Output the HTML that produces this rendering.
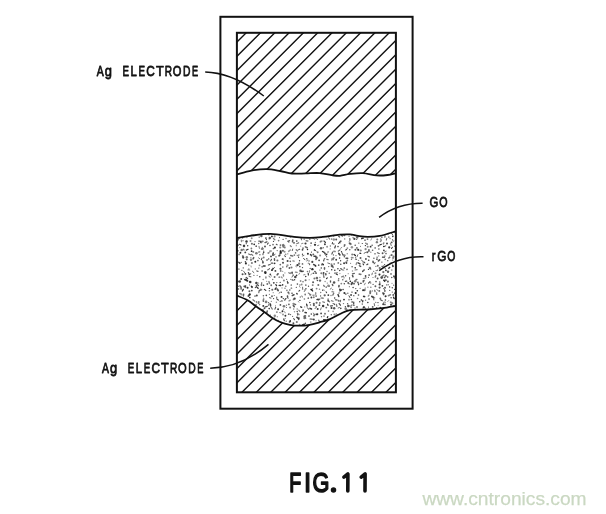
<!DOCTYPE html>
<html><head><meta charset="utf-8"><style>
html,body{margin:0;padding:0;background:#fff;}
body{width:606px;height:514px;overflow:hidden;position:relative;}
svg{position:absolute;left:0;top:0;}
</style></head><body>
<svg width="606" height="514" viewBox="0 0 606 514">
<defs>
<clipPath id="ct"><path d="M236.90 32.80 L395.90 32.80 L395.90 173.20 L395.90 173.20 C394.50 173.50 390.72 174.63 387.50 175.00 C384.28 175.37 380.72 175.72 376.60 175.40 C372.48 175.08 367.25 173.35 362.80 173.10 C358.35 172.85 353.70 173.45 349.90 173.90 C346.10 174.35 342.88 175.57 340.00 175.80 C337.12 176.03 335.98 175.75 332.60 175.30 C329.22 174.85 324.17 173.42 319.70 173.10 C315.23 172.78 310.42 173.33 305.80 173.40 C301.18 173.47 296.28 173.90 292.00 173.50 C287.72 173.10 284.35 171.72 280.10 171.00 C275.85 170.28 271.28 169.27 266.50 169.20 C261.72 169.13 256.33 169.73 251.40 170.60 C246.47 171.47 239.32 173.77 236.90 174.40 Z"/></clipPath>
<clipPath id="cb"><path d="M236.90 295.60 C238.68 296.37 244.37 298.38 247.60 300.20 C250.83 302.02 253.38 304.43 256.30 306.50 C259.22 308.57 262.33 310.65 265.10 312.60 C267.87 314.55 270.42 316.63 272.90 318.20 C275.38 319.77 277.18 320.90 280.00 322.00 C282.82 323.10 286.52 324.18 289.80 324.80 C293.08 325.42 296.40 325.70 299.70 325.70 C303.00 325.70 306.30 325.37 309.60 324.80 C312.90 324.23 316.20 323.22 319.50 322.30 C322.80 321.38 325.98 320.68 329.40 319.30 C332.82 317.92 336.57 315.52 340.00 314.00 C343.43 312.48 345.28 310.95 350.00 310.20 C354.72 309.45 362.92 309.85 368.30 309.50 C373.68 309.15 377.70 308.72 382.30 308.10 C386.90 307.48 393.63 306.18 395.90 305.80 L395.90 392.30 L236.90 392.30 Z"/></clipPath>
<clipPath id="cs"><path d="M236.90 238.00 C239.08 237.63 244.38 236.48 250.00 235.80 C255.62 235.12 263.27 233.72 270.60 233.90 C277.93 234.08 287.47 236.25 294.00 236.90 C300.53 237.55 305.02 237.80 309.80 237.80 C314.58 237.80 317.75 237.42 322.70 236.90 C327.65 236.38 334.95 235.12 339.50 234.70 C344.05 234.28 346.93 234.20 350.00 234.40 C353.07 234.60 354.93 235.48 357.90 235.90 C360.87 236.32 364.17 236.90 367.80 236.90 C371.43 236.90 375.02 236.83 379.70 235.90 C384.38 234.97 393.20 232.07 395.90 231.30 L395.90 305.80 L395.90 305.80 C393.63 306.18 386.90 307.48 382.30 308.10 C377.70 308.72 373.68 309.15 368.30 309.50 C362.92 309.85 354.72 309.45 350.00 310.20 C345.28 310.95 343.43 312.48 340.00 314.00 C336.57 315.52 332.82 317.92 329.40 319.30 C325.98 320.68 322.80 321.38 319.50 322.30 C316.20 323.22 312.90 324.23 309.60 324.80 C306.30 325.37 303.00 325.70 299.70 325.70 C296.40 325.70 293.08 325.42 289.80 324.80 C286.52 324.18 282.82 323.10 280.00 322.00 C277.18 320.90 275.38 319.77 272.90 318.20 C270.42 316.63 267.87 314.55 265.10 312.60 C262.33 310.65 259.22 308.57 256.30 306.50 C253.38 304.43 250.83 302.02 247.60 300.20 C244.37 298.38 238.68 296.37 236.90 295.60 Z"/></clipPath>
</defs>
<rect x="0" y="0" width="606" height="514" fill="#fff"/>
<g stroke="#111" stroke-width="1.4" fill="none">
<path clip-path="url(#ct)" d="M234.90 15.50 L397.90 -147.50 M234.90 29.80 L397.90 -133.20 M234.90 44.10 L397.90 -118.90 M234.90 58.40 L397.90 -104.60 M234.90 72.70 L397.90 -90.30 M234.90 87.00 L397.90 -76.00 M234.90 101.30 L397.90 -61.70 M234.90 115.60 L397.90 -47.40 M234.90 129.90 L397.90 -33.10 M234.90 144.20 L397.90 -18.80 M234.90 158.50 L397.90 -4.50 M234.90 172.80 L397.90 9.80 M234.90 187.10 L397.90 24.10 M234.90 201.40 L397.90 38.40 M234.90 215.70 L397.90 52.70 M234.90 230.00 L397.90 67.00 M234.90 244.30 L397.90 81.30 M234.90 258.60 L397.90 95.60 M234.90 272.90 L397.90 109.90 M234.90 287.20 L397.90 124.20 M234.90 301.50 L397.90 138.50 M234.90 315.80 L397.90 152.80 M234.90 330.10 L397.90 167.10 M234.90 344.40 L397.90 181.40 M234.90 358.70 L397.90 195.70"/>
<path clip-path="url(#cb)" d="M234.90 284.10 L397.90 121.10 M234.90 298.50 L397.90 135.50 M234.90 312.90 L397.90 149.90 M234.90 327.30 L397.90 164.30 M234.90 341.70 L397.90 178.70 M234.90 356.10 L397.90 193.10 M234.90 370.50 L397.90 207.50 M234.90 384.90 L397.90 221.90 M234.90 399.30 L397.90 236.30 M234.90 413.70 L397.90 250.70 M234.90 428.10 L397.90 265.10 M234.90 442.50 L397.90 279.50 M234.90 456.90 L397.90 293.90 M234.90 471.30 L397.90 308.30 M234.90 485.70 L397.90 322.70 M234.90 500.10 L397.90 337.10 M234.90 514.50 L397.90 351.50 M234.90 528.90 L397.90 365.90 M234.90 543.30 L397.90 380.30 M234.90 557.70 L397.90 394.70 M234.90 572.10 L397.90 409.10"/>
</g>
<g clip-path="url(#cs)" fill="#111" stroke="#111" stroke-linecap="round"><path d="M237.9 230.3 L237.8 232.1" stroke-opacity="0.71" stroke-width="1.21"/><path d="M240.8 229.0 L238.6 229.1" stroke-opacity="0.76" stroke-width="1.43"/><path d="M244.5 228.2 L245.3 228.9" stroke-opacity="0.48" stroke-width="1.22"/><circle cx="247.8" cy="230.9" r="0.87" fill-opacity="0.67" stroke="none"/><circle cx="250.7" cy="231.4" r="1.29" fill-opacity="0.77" stroke="none"/><circle cx="254.1" cy="228.2" r="0.75" fill-opacity="0.83" stroke="none"/><circle cx="260.1" cy="228.7" r="1.16" fill-opacity="0.89" stroke="none"/><circle cx="265.7" cy="230.7" r="0.59" fill-opacity="0.60" stroke="none"/><path d="M267.5 228.1 L267.2 229.6" stroke-opacity="0.81" stroke-width="0.87"/><path d="M272.2 227.6 L273.6 229.3" stroke-opacity="0.64" stroke-width="0.91"/><circle cx="274.9" cy="231.1" r="0.75" fill-opacity="0.83" stroke="none"/><path d="M280.2 228.6 L281.3 228.9" stroke-opacity="0.60" stroke-width="1.40"/><circle cx="281.6" cy="230.1" r="0.78" fill-opacity="0.88" stroke="none"/><path d="M286.4 228.1 L288.0 229.2" stroke-opacity="0.82" stroke-width="1.51"/><path d="M287.3 231.1 L289.4 231.4" stroke-opacity="0.64" stroke-width="1.28"/><path d="M293.9 228.5 L293.2 229.3" stroke-opacity="0.58" stroke-width="1.27"/><path d="M295.8 230.9 L297.1 231.0" stroke-opacity="0.86" stroke-width="1.04"/><circle cx="298.2" cy="228.6" r="0.84" fill-opacity="0.51" stroke="none"/><path d="M303.8 230.2 L305.9 230.3" stroke-opacity="0.51" stroke-width="1.26"/><circle cx="308.2" cy="228.1" r="0.79" fill-opacity="0.78" stroke="none"/><circle cx="313.7" cy="230.5" r="1.26" fill-opacity="0.77" stroke="none"/><circle cx="316.5" cy="230.4" r="1.30" fill-opacity="0.64" stroke="none"/><path d="M321.1 229.2 L320.2 231.1" stroke-opacity="0.72" stroke-width="1.26"/><circle cx="324.7" cy="229.3" r="0.84" fill-opacity="0.65" stroke="none"/><circle cx="328.2" cy="228.1" r="0.79" fill-opacity="0.55" stroke="none"/><circle cx="331.2" cy="231.2" r="0.56" fill-opacity="0.59" stroke="none"/><circle cx="333.1" cy="231.1" r="0.77" fill-opacity="0.85" stroke="none"/><circle cx="336.6" cy="229.5" r="1.01" fill-opacity="0.85" stroke="none"/><circle cx="340.5" cy="228.5" r="0.97" fill-opacity="0.83" stroke="none"/><circle cx="346.9" cy="229.6" r="0.66" fill-opacity="0.64" stroke="none"/><path d="M351.3 230.7 L350.4 231.1" stroke-opacity="0.48" stroke-width="1.74"/><circle cx="355.2" cy="229.1" r="0.56" fill-opacity="0.51" stroke="none"/><circle cx="359.5" cy="228.8" r="0.57" fill-opacity="0.73" stroke="none"/><circle cx="362.4" cy="230.8" r="1.24" fill-opacity="0.54" stroke="none"/><circle cx="363.6" cy="229.6" r="0.64" fill-opacity="0.57" stroke="none"/><circle cx="368.8" cy="230.1" r="0.75" fill-opacity="0.81" stroke="none"/><circle cx="373.7" cy="230.5" r="0.78" fill-opacity="0.73" stroke="none"/><circle cx="375.9" cy="231.0" r="1.02" fill-opacity="0.66" stroke="none"/><circle cx="379.8" cy="230.8" r="0.91" fill-opacity="0.55" stroke="none"/><path d="M390.3 228.3 L390.6 229.9" stroke-opacity="0.61" stroke-width="1.95"/><path d="M392.3 227.3 L393.3 228.9" stroke-opacity="0.81" stroke-width="0.87"/><circle cx="395.1" cy="229.8" r="0.97" fill-opacity="0.76" stroke="none"/><circle cx="239.2" cy="231.7" r="0.81" fill-opacity="0.58" stroke="none"/><circle cx="241.2" cy="234.4" r="0.71" fill-opacity="0.62" stroke="none"/><path d="M243.6 233.6 L243.4 235.2" stroke-opacity="0.71" stroke-width="1.78"/><circle cx="246.3" cy="234.8" r="0.75" fill-opacity="0.81" stroke="none"/><circle cx="252.1" cy="231.7" r="0.76" fill-opacity="0.88" stroke="none"/><circle cx="254.8" cy="231.9" r="0.96" fill-opacity="0.86" stroke="none"/><path d="M256.7 233.2 L257.8 233.9" stroke-opacity="0.80" stroke-width="1.57"/><path d="M261.2 232.0 L261.1 233.3" stroke-opacity="0.78" stroke-width="0.90"/><path d="M264.6 232.4 L266.0 233.5" stroke-opacity="0.69" stroke-width="1.14"/><circle cx="268.8" cy="234.4" r="0.98" fill-opacity="0.55" stroke="none"/><circle cx="273.5" cy="232.5" r="1.01" fill-opacity="0.55" stroke="none"/><circle cx="274.3" cy="232.3" r="0.68" fill-opacity="0.49" stroke="none"/><path d="M280.6 231.0 L279.5 232.8" stroke-opacity="0.46" stroke-width="1.34"/><path d="M285.5 233.9 L286.4 234.2" stroke-opacity="0.54" stroke-width="1.34"/><circle cx="289.4" cy="233.4" r="0.64" fill-opacity="0.54" stroke="none"/><circle cx="294.9" cy="231.7" r="1.16" fill-opacity="0.79" stroke="none"/><circle cx="299.8" cy="232.9" r="0.56" fill-opacity="0.77" stroke="none"/><circle cx="303.0" cy="234.0" r="0.65" fill-opacity="0.52" stroke="none"/><circle cx="308.0" cy="234.2" r="0.98" fill-opacity="0.73" stroke="none"/><circle cx="310.1" cy="234.8" r="0.68" fill-opacity="0.86" stroke="none"/><circle cx="314.6" cy="232.8" r="0.99" fill-opacity="0.76" stroke="none"/><path d="M316.3 233.1 L317.0 234.7" stroke-opacity="0.66" stroke-width="1.08"/><circle cx="319.5" cy="234.7" r="0.72" fill-opacity="0.75" stroke="none"/><circle cx="323.5" cy="234.9" r="0.90" fill-opacity="0.79" stroke="none"/><path d="M327.5 233.5 L327.9 234.5" stroke-opacity="0.47" stroke-width="1.13"/><circle cx="332.2" cy="233.3" r="1.03" fill-opacity="0.71" stroke="none"/><circle cx="335.3" cy="231.7" r="0.93" fill-opacity="0.47" stroke="none"/><circle cx="337.6" cy="232.0" r="0.86" fill-opacity="0.48" stroke="none"/><circle cx="341.2" cy="233.5" r="0.69" fill-opacity="0.74" stroke="none"/><path d="M345.8 232.0 L344.8 233.0" stroke-opacity="0.47" stroke-width="1.01"/><circle cx="348.9" cy="231.6" r="1.33" fill-opacity="0.48" stroke="none"/><circle cx="351.4" cy="234.8" r="0.81" fill-opacity="0.87" stroke="none"/><circle cx="356.6" cy="234.3" r="0.61" fill-opacity="0.73" stroke="none"/><circle cx="356.8" cy="233.3" r="0.77" fill-opacity="0.75" stroke="none"/><circle cx="362.1" cy="232.9" r="0.82" fill-opacity="0.90" stroke="none"/><circle cx="364.4" cy="231.8" r="0.94" fill-opacity="0.73" stroke="none"/><path d="M368.6 232.6 L370.1 234.2" stroke-opacity="0.79" stroke-width="1.30"/><circle cx="373.5" cy="231.6" r="0.69" fill-opacity="0.64" stroke="none"/><circle cx="375.8" cy="231.7" r="0.89" fill-opacity="0.70" stroke="none"/><path d="M378.1 231.8 L379.9 232.5" stroke-opacity="0.83" stroke-width="1.38"/><circle cx="383.5" cy="232.2" r="0.68" fill-opacity="0.81" stroke="none"/><circle cx="387.7" cy="232.6" r="0.92" fill-opacity="0.86" stroke="none"/><circle cx="388.0" cy="234.5" r="0.59" fill-opacity="0.70" stroke="none"/><path d="M391.6 233.4 L392.7 234.9" stroke-opacity="0.75" stroke-width="0.98"/><path d="M396.1 231.3 L395.1 232.6" stroke-opacity="0.61" stroke-width="1.37"/><circle cx="239.1" cy="238.1" r="0.95" fill-opacity="0.59" stroke="none"/><circle cx="242.6" cy="238.0" r="0.73" fill-opacity="0.61" stroke="none"/><circle cx="244.1" cy="235.6" r="0.95" fill-opacity="0.69" stroke="none"/><circle cx="246.9" cy="237.5" r="0.69" fill-opacity="0.46" stroke="none"/><circle cx="251.7" cy="238.2" r="0.95" fill-opacity="0.48" stroke="none"/><circle cx="253.4" cy="235.2" r="1.00" fill-opacity="0.49" stroke="none"/><circle cx="259.2" cy="237.1" r="0.66" fill-opacity="0.79" stroke="none"/><circle cx="261.4" cy="236.1" r="1.24" fill-opacity="0.67" stroke="none"/><circle cx="265.9" cy="238.1" r="0.96" fill-opacity="0.75" stroke="none"/><circle cx="269.8" cy="238.0" r="1.22" fill-opacity="0.69" stroke="none"/><circle cx="271.9" cy="236.4" r="0.92" fill-opacity="0.90" stroke="none"/><circle cx="274.6" cy="236.4" r="1.03" fill-opacity="0.48" stroke="none"/><circle cx="279.5" cy="237.6" r="0.58" fill-opacity="0.66" stroke="none"/><circle cx="280.9" cy="235.3" r="0.66" fill-opacity="0.56" stroke="none"/><circle cx="285.0" cy="235.5" r="0.64" fill-opacity="0.79" stroke="none"/><circle cx="290.5" cy="236.6" r="0.99" fill-opacity="0.86" stroke="none"/><circle cx="294.4" cy="236.6" r="0.57" fill-opacity="0.88" stroke="none"/><path d="M295.6 236.7 L297.2 236.7" stroke-opacity="0.75" stroke-width="1.57"/><circle cx="300.7" cy="237.4" r="0.63" fill-opacity="0.52" stroke="none"/><circle cx="304.4" cy="236.7" r="1.05" fill-opacity="0.57" stroke="none"/><path d="M306.9 234.2 L308.2 235.6" stroke-opacity="0.82" stroke-width="1.46"/><circle cx="310.0" cy="236.5" r="1.21" fill-opacity="0.84" stroke="none"/><circle cx="313.2" cy="238.1" r="0.96" fill-opacity="0.54" stroke="none"/><circle cx="315.8" cy="237.8" r="0.71" fill-opacity="0.48" stroke="none"/><circle cx="321.2" cy="236.1" r="0.60" fill-opacity="0.63" stroke="none"/><circle cx="327.9" cy="234.9" r="0.91" fill-opacity="0.56" stroke="none"/><path d="M328.8 237.6 L329.4 239.1" stroke-opacity="0.73" stroke-width="0.98"/><circle cx="333.7" cy="236.3" r="0.68" fill-opacity="0.54" stroke="none"/><path d="M338.7 236.6 L339.7 237.1" stroke-opacity="0.82" stroke-width="1.07"/><path d="M341.4 235.1 L342.3 235.9" stroke-opacity="0.72" stroke-width="1.45"/><circle cx="344.3" cy="235.2" r="1.15" fill-opacity="0.68" stroke="none"/><circle cx="349.1" cy="236.2" r="0.76" fill-opacity="0.46" stroke="none"/><circle cx="353.1" cy="237.6" r="0.85" fill-opacity="0.46" stroke="none"/><circle cx="355.4" cy="235.3" r="0.80" fill-opacity="0.80" stroke="none"/><circle cx="357.2" cy="237.5" r="1.19" fill-opacity="0.61" stroke="none"/><path d="M363.4 238.2 L361.7 238.5" stroke-opacity="0.83" stroke-width="1.36"/><circle cx="363.8" cy="235.7" r="0.90" fill-opacity="0.60" stroke="none"/><circle cx="368.6" cy="235.3" r="1.05" fill-opacity="0.86" stroke="none"/><circle cx="372.4" cy="235.8" r="1.35" fill-opacity="0.82" stroke="none"/><circle cx="376.7" cy="235.9" r="0.67" fill-opacity="0.71" stroke="none"/><circle cx="379.2" cy="235.2" r="0.64" fill-opacity="0.89" stroke="none"/><circle cx="381.9" cy="237.2" r="0.74" fill-opacity="0.72" stroke="none"/><path d="M385.0 235.9 L384.9 237.2" stroke-opacity="0.71" stroke-width="1.11"/><circle cx="388.8" cy="237.1" r="0.89" fill-opacity="0.52" stroke="none"/><circle cx="392.8" cy="236.3" r="0.89" fill-opacity="0.79" stroke="none"/><circle cx="398.0" cy="237.8" r="0.75" fill-opacity="0.65" stroke="none"/><path d="M238.4 239.4 L237.0 241.0" stroke-opacity="0.59" stroke-width="1.50"/><path d="M241.3 240.2 L241.5 241.7" stroke-opacity="0.48" stroke-width="1.27"/><circle cx="243.0" cy="240.7" r="0.67" fill-opacity="0.59" stroke="none"/><circle cx="246.5" cy="241.5" r="1.23" fill-opacity="0.84" stroke="none"/><circle cx="250.5" cy="240.9" r="1.00" fill-opacity="0.49" stroke="none"/><circle cx="255.0" cy="241.6" r="0.67" fill-opacity="0.58" stroke="none"/><path d="M258.7 241.1 L260.7 241.3" stroke-opacity="0.71" stroke-width="1.09"/><path d="M262.8 241.3 L260.8 241.8" stroke-opacity="0.54" stroke-width="1.75"/><circle cx="266.4" cy="239.6" r="0.64" fill-opacity="0.85" stroke="none"/><circle cx="269.1" cy="239.0" r="0.58" fill-opacity="0.50" stroke="none"/><circle cx="273.5" cy="241.4" r="0.62" fill-opacity="0.76" stroke="none"/><path d="M273.5 238.5 L274.8 239.7" stroke-opacity="0.54" stroke-width="1.36"/><circle cx="278.6" cy="240.6" r="0.84" fill-opacity="0.55" stroke="none"/><circle cx="283.1" cy="239.3" r="0.59" fill-opacity="0.89" stroke="none"/><circle cx="286.0" cy="238.5" r="0.69" fill-opacity="0.56" stroke="none"/><path d="M289.7 240.6 L287.6 241.3" stroke-opacity="0.70" stroke-width="1.03"/><path d="M292.8 240.1 L292.5 241.8" stroke-opacity="0.67" stroke-width="1.52"/><circle cx="296.8" cy="241.1" r="0.80" fill-opacity="0.83" stroke="none"/><path d="M301.1 238.0 L301.5 239.9" stroke-opacity="0.72" stroke-width="0.95"/><circle cx="304.2" cy="239.2" r="0.66" fill-opacity="0.71" stroke="none"/><path d="M306.2 240.8 L307.8 240.9" stroke-opacity="0.53" stroke-width="1.48"/><circle cx="309.9" cy="239.3" r="0.59" fill-opacity="0.86" stroke="none"/><circle cx="314.5" cy="239.2" r="0.71" fill-opacity="0.47" stroke="none"/><path d="M316.6 238.8 L317.5 239.7" stroke-opacity="0.82" stroke-width="0.89"/><path d="M322.1 241.0 L321.0 241.1" stroke-opacity="0.61" stroke-width="1.13"/><path d="M324.0 241.0 L325.5 242.5" stroke-opacity="0.79" stroke-width="1.17"/><circle cx="327.0" cy="239.4" r="0.59" fill-opacity="0.47" stroke="none"/><circle cx="331.6" cy="239.1" r="0.83" fill-opacity="0.56" stroke="none"/><circle cx="333.8" cy="239.5" r="1.21" fill-opacity="0.47" stroke="none"/><circle cx="336.2" cy="239.5" r="0.98" fill-opacity="0.72" stroke="none"/><circle cx="340.8" cy="241.3" r="0.94" fill-opacity="0.55" stroke="none"/><circle cx="344.7" cy="238.9" r="0.66" fill-opacity="0.66" stroke="none"/><path d="M350.1 240.1 L349.3 241.3" stroke-opacity="0.62" stroke-width="0.98"/><circle cx="349.8" cy="239.0" r="0.75" fill-opacity="0.87" stroke="none"/><circle cx="354.4" cy="238.9" r="1.13" fill-opacity="0.79" stroke="none"/><circle cx="356.7" cy="239.5" r="0.59" fill-opacity="0.85" stroke="none"/><path d="M362.0 238.0 L361.7 239.0" stroke-opacity="0.47" stroke-width="1.00"/><circle cx="365.0" cy="240.2" r="0.90" fill-opacity="0.57" stroke="none"/><circle cx="367.5" cy="239.1" r="0.91" fill-opacity="0.63" stroke="none"/><path d="M371.6 238.6 L370.9 240.1" stroke-opacity="0.47" stroke-width="0.99"/><circle cx="377.3" cy="239.4" r="1.01" fill-opacity="0.55" stroke="none"/><circle cx="380.6" cy="241.3" r="0.87" fill-opacity="0.49" stroke="none"/><path d="M380.8 238.9 L381.2 240.4" stroke-opacity="0.58" stroke-width="1.20"/><path d="M386.8 238.3 L386.3 240.1" stroke-opacity="0.64" stroke-width="1.08"/><circle cx="390.1" cy="238.4" r="0.73" fill-opacity="0.48" stroke="none"/><path d="M392.4 239.5 L393.3 241.3" stroke-opacity="0.56" stroke-width="1.07"/><circle cx="395.5" cy="240.7" r="0.78" fill-opacity="0.73" stroke="none"/><circle cx="237.9" cy="245.1" r="0.86" fill-opacity="0.73" stroke="none"/><path d="M239.6 244.3 L241.0 245.0" stroke-opacity="0.86" stroke-width="1.11"/><circle cx="244.0" cy="245.2" r="0.65" fill-opacity="0.55" stroke="none"/><circle cx="246.3" cy="243.7" r="0.67" fill-opacity="0.67" stroke="none"/><circle cx="251.9" cy="243.7" r="1.03" fill-opacity="0.60" stroke="none"/><circle cx="254.2" cy="244.3" r="0.89" fill-opacity="0.88" stroke="none"/><circle cx="258.7" cy="243.5" r="0.73" fill-opacity="0.58" stroke="none"/><path d="M260.3 242.6 L261.4 242.8" stroke-opacity="0.68" stroke-width="0.96"/><path d="M266.9 241.8 L265.0 242.6" stroke-opacity="0.67" stroke-width="1.40"/><path d="M268.3 243.0 L267.4 244.1" stroke-opacity="0.77" stroke-width="1.12"/><circle cx="273.0" cy="244.7" r="0.83" fill-opacity="0.64" stroke="none"/><path d="M276.3 244.3 L277.1 244.8" stroke-opacity="0.75" stroke-width="1.11"/><circle cx="280.5" cy="245.1" r="0.89" fill-opacity="0.64" stroke="none"/><path d="M283.4 244.5 L284.6 245.9" stroke-opacity="0.50" stroke-width="1.36"/><circle cx="288.8" cy="241.9" r="0.79" fill-opacity="0.62" stroke="none"/><circle cx="294.0" cy="242.8" r="0.86" fill-opacity="0.79" stroke="none"/><path d="M297.6 243.5 L296.3 243.8" stroke-opacity="0.53" stroke-width="0.94"/><circle cx="298.4" cy="242.9" r="0.83" fill-opacity="0.51" stroke="none"/><path d="M302.9 243.2 L301.6 243.7" stroke-opacity="0.47" stroke-width="1.02"/><circle cx="305.5" cy="243.5" r="1.07" fill-opacity="0.84" stroke="none"/><circle cx="311.1" cy="243.2" r="0.83" fill-opacity="0.75" stroke="none"/><circle cx="315.0" cy="244.8" r="1.16" fill-opacity="0.83" stroke="none"/><circle cx="315.3" cy="242.4" r="0.59" fill-opacity="0.61" stroke="none"/><circle cx="320.5" cy="241.8" r="1.03" fill-opacity="0.45" stroke="none"/><circle cx="324.9" cy="244.3" r="0.95" fill-opacity="0.82" stroke="none"/><path d="M332.5 242.6 L332.2 243.8" stroke-opacity="0.86" stroke-width="1.01"/><circle cx="333.8" cy="244.1" r="0.73" fill-opacity="0.74" stroke="none"/><path d="M339.6 242.3 L338.5 243.5" stroke-opacity="0.78" stroke-width="1.08"/><path d="M340.0 241.4 L340.0 242.9" stroke-opacity="0.64" stroke-width="1.09"/><circle cx="344.7" cy="245.1" r="0.99" fill-opacity="0.59" stroke="none"/><circle cx="349.7" cy="243.3" r="1.08" fill-opacity="0.63" stroke="none"/><circle cx="350.7" cy="244.1" r="1.11" fill-opacity="0.53" stroke="none"/><circle cx="358.8" cy="243.1" r="0.66" fill-opacity="0.73" stroke="none"/><circle cx="362.3" cy="243.5" r="0.61" fill-opacity="0.83" stroke="none"/><circle cx="365.8" cy="243.2" r="0.67" fill-opacity="0.72" stroke="none"/><circle cx="367.1" cy="244.0" r="0.85" fill-opacity="0.72" stroke="none"/><circle cx="372.1" cy="245.2" r="0.71" fill-opacity="0.78" stroke="none"/><circle cx="376.9" cy="242.2" r="1.17" fill-opacity="0.56" stroke="none"/><path d="M381.4 244.3 L379.7 245.0" stroke-opacity="0.90" stroke-width="1.21"/><path d="M383.8 242.9 L383.3 243.9" stroke-opacity="0.54" stroke-width="1.47"/><circle cx="387.0" cy="243.5" r="0.95" fill-opacity="0.83" stroke="none"/><path d="M390.4 243.6 L391.3 245.5" stroke-opacity="0.50" stroke-width="1.10"/><circle cx="391.6" cy="242.4" r="0.97" fill-opacity="0.73" stroke="none"/><path d="M398.4 241.9 L397.6 243.2" stroke-opacity="0.78" stroke-width="1.48"/><circle cx="237.1" cy="246.3" r="0.69" fill-opacity="0.72" stroke="none"/><circle cx="239.8" cy="247.6" r="0.61" fill-opacity="0.50" stroke="none"/><circle cx="244.0" cy="245.9" r="1.24" fill-opacity="0.78" stroke="none"/><circle cx="247.7" cy="245.8" r="0.76" fill-opacity="0.82" stroke="none"/><circle cx="251.4" cy="248.5" r="0.90" fill-opacity="0.56" stroke="none"/><circle cx="256.2" cy="246.2" r="0.89" fill-opacity="0.65" stroke="none"/><path d="M259.0 246.3 L259.4 248.4" stroke-opacity="0.64" stroke-width="0.87"/><circle cx="262.4" cy="247.6" r="0.76" fill-opacity="0.51" stroke="none"/><circle cx="265.0" cy="246.4" r="0.98" fill-opacity="0.72" stroke="none"/><circle cx="270.0" cy="245.6" r="0.74" fill-opacity="0.78" stroke="none"/><circle cx="273.5" cy="248.5" r="0.87" fill-opacity="0.66" stroke="none"/><circle cx="274.9" cy="247.6" r="1.04" fill-opacity="0.89" stroke="none"/><circle cx="280.2" cy="247.5" r="1.05" fill-opacity="0.48" stroke="none"/><path d="M282.7 245.1 L283.3 246.9" stroke-opacity="0.62" stroke-width="1.61"/><circle cx="284.8" cy="247.5" r="0.92" fill-opacity="0.56" stroke="none"/><circle cx="290.3" cy="245.7" r="0.56" fill-opacity="0.84" stroke="none"/><circle cx="291.2" cy="246.5" r="0.82" fill-opacity="0.50" stroke="none"/><circle cx="296.3" cy="245.7" r="0.61" fill-opacity="0.49" stroke="none"/><circle cx="300.7" cy="246.1" r="0.58" fill-opacity="0.55" stroke="none"/><circle cx="303.0" cy="248.2" r="0.98" fill-opacity="0.52" stroke="none"/><path d="M305.4 246.9 L307.2 247.8" stroke-opacity="0.64" stroke-width="1.55"/><circle cx="310.8" cy="245.8" r="0.56" fill-opacity="0.50" stroke="none"/><path d="M318.8 245.2 L317.5 245.6" stroke-opacity="0.57" stroke-width="0.88"/><circle cx="321.0" cy="248.3" r="1.20" fill-opacity="0.68" stroke="none"/><circle cx="323.2" cy="247.8" r="0.73" fill-opacity="0.64" stroke="none"/><circle cx="327.1" cy="246.8" r="0.97" fill-opacity="0.48" stroke="none"/><circle cx="330.4" cy="246.0" r="0.74" fill-opacity="0.59" stroke="none"/><path d="M335.4 245.9 L334.8 248.0" stroke-opacity="0.88" stroke-width="1.13"/><circle cx="338.0" cy="246.5" r="0.85" fill-opacity="0.72" stroke="none"/><path d="M341.8 247.4 L340.6 248.3" stroke-opacity="0.56" stroke-width="0.89"/><circle cx="344.2" cy="246.2" r="0.59" fill-opacity="0.89" stroke="none"/><circle cx="347.4" cy="248.1" r="0.87" fill-opacity="0.48" stroke="none"/><circle cx="351.9" cy="247.2" r="1.22" fill-opacity="0.46" stroke="none"/><circle cx="355.2" cy="245.3" r="0.76" fill-opacity="0.76" stroke="none"/><circle cx="356.9" cy="247.9" r="0.93" fill-opacity="0.62" stroke="none"/><circle cx="360.5" cy="246.4" r="0.59" fill-opacity="0.50" stroke="none"/><circle cx="365.4" cy="245.6" r="0.71" fill-opacity="0.88" stroke="none"/><circle cx="367.7" cy="246.7" r="0.97" fill-opacity="0.51" stroke="none"/><circle cx="370.6" cy="246.7" r="0.89" fill-opacity="0.87" stroke="none"/><circle cx="375.2" cy="247.9" r="0.92" fill-opacity="0.52" stroke="none"/><circle cx="378.5" cy="245.8" r="0.85" fill-opacity="0.68" stroke="none"/><circle cx="383.7" cy="246.5" r="0.79" fill-opacity="0.89" stroke="none"/><path d="M385.7 245.8 L384.4 246.5" stroke-opacity="0.57" stroke-width="1.26"/><circle cx="389.2" cy="247.4" r="1.04" fill-opacity="0.86" stroke="none"/><path d="M392.4 247.2 L391.5 248.5" stroke-opacity="0.83" stroke-width="1.05"/><path d="M396.2 245.4 L395.3 246.2" stroke-opacity="0.81" stroke-width="1.90"/><circle cx="237.7" cy="250.8" r="0.93" fill-opacity="0.71" stroke="none"/><circle cx="241.7" cy="250.0" r="1.25" fill-opacity="0.58" stroke="none"/><path d="M243.3 249.1 L244.1 250.0" stroke-opacity="0.56" stroke-width="1.23"/><path d="M248.1 249.3 L246.3 250.1" stroke-opacity="0.84" stroke-width="1.21"/><circle cx="251.6" cy="251.2" r="0.88" fill-opacity="0.86" stroke="none"/><circle cx="253.3" cy="251.9" r="0.94" fill-opacity="0.56" stroke="none"/><path d="M259.7 251.9 L258.6 252.0" stroke-opacity="0.61" stroke-width="1.25"/><path d="M263.0 248.9 L261.6 249.0" stroke-opacity="0.70" stroke-width="1.55"/><circle cx="263.7" cy="251.0" r="0.56" fill-opacity="0.71" stroke="none"/><path d="M270.0 250.7 L269.8 252.1" stroke-opacity="0.69" stroke-width="0.88"/><circle cx="271.1" cy="251.1" r="0.79" fill-opacity="0.49" stroke="none"/><circle cx="277.2" cy="250.6" r="0.70" fill-opacity="0.60" stroke="none"/><path d="M280.6 251.1 L280.7 252.8" stroke-opacity="0.87" stroke-width="1.95"/><circle cx="282.9" cy="250.8" r="1.03" fill-opacity="0.68" stroke="none"/><circle cx="284.6" cy="251.7" r="1.01" fill-opacity="0.46" stroke="none"/><path d="M290.3 250.0 L288.6 251.4" stroke-opacity="0.45" stroke-width="1.43"/><path d="M292.7 249.1 L292.3 250.6" stroke-opacity="0.80" stroke-width="0.84"/><path d="M296.3 249.7 L297.4 250.8" stroke-opacity="0.53" stroke-width="1.49"/><path d="M299.7 249.3 L298.6 249.8" stroke-opacity="0.69" stroke-width="1.02"/><circle cx="302.5" cy="249.8" r="0.89" fill-opacity="0.81" stroke="none"/><circle cx="307.5" cy="249.5" r="0.76" fill-opacity="0.90" stroke="none"/><circle cx="311.5" cy="252.1" r="0.62" fill-opacity="0.81" stroke="none"/><circle cx="314.5" cy="250.0" r="0.85" fill-opacity="0.78" stroke="none"/><path d="M314.5 249.8 L316.1 251.0" stroke-opacity="0.86" stroke-width="0.87"/><path d="M322.5 251.5 L324.2 252.3" stroke-opacity="0.88" stroke-width="1.36"/><path d="M328.6 251.9 L327.6 252.1" stroke-opacity="0.50" stroke-width="1.10"/><circle cx="330.2" cy="248.9" r="0.64" fill-opacity="0.51" stroke="none"/><path d="M333.8 251.2 L335.1 251.5" stroke-opacity="0.49" stroke-width="1.54"/><path d="M340.0 249.8 L338.3 251.1" stroke-opacity="0.71" stroke-width="1.07"/><circle cx="341.5" cy="251.6" r="0.65" fill-opacity="0.87" stroke="none"/><circle cx="345.5" cy="250.1" r="0.63" fill-opacity="0.53" stroke="none"/><circle cx="346.4" cy="249.5" r="0.80" fill-opacity="0.74" stroke="none"/><circle cx="349.8" cy="249.7" r="0.68" fill-opacity="0.73" stroke="none"/><circle cx="355.4" cy="249.8" r="0.99" fill-opacity="0.71" stroke="none"/><circle cx="358.2" cy="249.8" r="1.08" fill-opacity="0.87" stroke="none"/><circle cx="360.7" cy="250.5" r="1.10" fill-opacity="0.53" stroke="none"/><circle cx="365.6" cy="249.2" r="1.10" fill-opacity="0.49" stroke="none"/><path d="M368.9 249.8 L368.9 251.1" stroke-opacity="0.62" stroke-width="1.77"/><circle cx="372.6" cy="250.3" r="0.80" fill-opacity="0.67" stroke="none"/><circle cx="378.9" cy="249.0" r="0.67" fill-opacity="0.82" stroke="none"/><circle cx="383.9" cy="250.4" r="0.83" fill-opacity="0.88" stroke="none"/><path d="M386.1 251.1 L384.4 252.1" stroke-opacity="0.54" stroke-width="1.08"/><path d="M394.1 251.1 L392.9 251.8" stroke-opacity="0.81" stroke-width="1.43"/><circle cx="397.8" cy="248.8" r="0.72" fill-opacity="0.81" stroke="none"/><circle cx="239.1" cy="254.4" r="0.88" fill-opacity="0.50" stroke="none"/><circle cx="240.4" cy="252.8" r="0.93" fill-opacity="0.89" stroke="none"/><circle cx="245.3" cy="252.4" r="0.93" fill-opacity="0.80" stroke="none"/><path d="M248.6 253.9 L250.4 254.8" stroke-opacity="0.61" stroke-width="1.11"/><path d="M251.2 254.3 L252.7 255.3" stroke-opacity="0.59" stroke-width="1.21"/><circle cx="256.4" cy="253.3" r="1.32" fill-opacity="0.58" stroke="none"/><circle cx="259.9" cy="254.8" r="0.69" fill-opacity="0.69" stroke="none"/><path d="M263.2 253.4 L262.9 254.6" stroke-opacity="0.56" stroke-width="1.38"/><circle cx="263.7" cy="252.3" r="0.81" fill-opacity="0.88" stroke="none"/><circle cx="268.4" cy="253.0" r="1.03" fill-opacity="0.50" stroke="none"/><path d="M273.2 253.0 L272.9 255.2" stroke-opacity="0.86" stroke-width="1.53"/><path d="M275.1 254.1 L273.9 255.5" stroke-opacity="0.70" stroke-width="0.94"/><path d="M279.9 253.3 L280.0 255.5" stroke-opacity="0.64" stroke-width="1.17"/><path d="M280.7 251.6 L281.1 253.2" stroke-opacity="0.65" stroke-width="1.35"/><circle cx="285.6" cy="254.4" r="0.86" fill-opacity="0.47" stroke="none"/><circle cx="287.8" cy="253.8" r="0.59" fill-opacity="0.63" stroke="none"/><circle cx="294.4" cy="255.1" r="0.84" fill-opacity="0.59" stroke="none"/><circle cx="295.6" cy="252.9" r="0.80" fill-opacity="0.63" stroke="none"/><circle cx="298.9" cy="254.9" r="0.77" fill-opacity="0.61" stroke="none"/><circle cx="302.5" cy="254.3" r="0.70" fill-opacity="0.80" stroke="none"/><circle cx="307.9" cy="253.7" r="1.00" fill-opacity="0.89" stroke="none"/><circle cx="310.7" cy="254.7" r="0.91" fill-opacity="0.88" stroke="none"/><circle cx="313.3" cy="254.4" r="0.94" fill-opacity="0.69" stroke="none"/><circle cx="317.7" cy="252.2" r="0.93" fill-opacity="0.57" stroke="none"/><circle cx="320.1" cy="255.6" r="1.01" fill-opacity="0.48" stroke="none"/><circle cx="325.0" cy="253.5" r="0.91" fill-opacity="0.79" stroke="none"/><path d="M327.0 254.1 L325.9 255.0" stroke-opacity="0.89" stroke-width="1.23"/><path d="M332.7 252.1 L331.9 254.1" stroke-opacity="0.67" stroke-width="1.22"/><circle cx="333.5" cy="254.9" r="0.62" fill-opacity="0.72" stroke="none"/><path d="M338.8 253.4 L339.9 254.9" stroke-opacity="0.79" stroke-width="1.69"/><path d="M341.9 252.6 L342.6 254.3" stroke-opacity="0.69" stroke-width="1.09"/><path d="M343.0 254.9 L344.9 255.4" stroke-opacity="0.53" stroke-width="1.63"/><circle cx="347.2" cy="253.8" r="0.56" fill-opacity="0.82" stroke="none"/><circle cx="352.2" cy="254.6" r="0.99" fill-opacity="0.55" stroke="none"/><path d="M354.1 254.4 L355.4 255.5" stroke-opacity="0.89" stroke-width="1.28"/><circle cx="360.0" cy="253.3" r="0.77" fill-opacity="0.82" stroke="none"/><circle cx="360.7" cy="253.4" r="0.66" fill-opacity="0.85" stroke="none"/><path d="M365.5 252.5 L364.1 253.3" stroke-opacity="0.76" stroke-width="0.86"/><circle cx="367.3" cy="252.3" r="1.04" fill-opacity="0.72" stroke="none"/><circle cx="370.8" cy="252.2" r="0.64" fill-opacity="0.57" stroke="none"/><circle cx="375.0" cy="253.8" r="0.83" fill-opacity="0.61" stroke="none"/><path d="M377.4 252.7 L379.3 253.4" stroke-opacity="0.72" stroke-width="1.06"/><circle cx="382.6" cy="253.2" r="0.93" fill-opacity="0.73" stroke="none"/><circle cx="386.0" cy="253.6" r="0.80" fill-opacity="0.66" stroke="none"/><path d="M391.1 254.7 L389.7 255.8" stroke-opacity="0.59" stroke-width="0.84"/><circle cx="391.8" cy="255.1" r="0.89" fill-opacity="0.76" stroke="none"/><circle cx="396.0" cy="254.1" r="1.05" fill-opacity="0.86" stroke="none"/><circle cx="236.8" cy="258.9" r="0.81" fill-opacity="0.59" stroke="none"/><circle cx="242.8" cy="255.9" r="1.00" fill-opacity="0.52" stroke="none"/><circle cx="243.2" cy="257.5" r="1.15" fill-opacity="0.79" stroke="none"/><circle cx="246.8" cy="257.2" r="1.24" fill-opacity="0.55" stroke="none"/><circle cx="250.9" cy="257.6" r="0.56" fill-opacity="0.55" stroke="none"/><path d="M253.7 257.6 L253.1 258.8" stroke-opacity="0.70" stroke-width="1.54"/><path d="M258.7 257.9 L259.5 258.5" stroke-opacity="0.81" stroke-width="0.85"/><path d="M262.0 258.1 L261.3 259.7" stroke-opacity="0.82" stroke-width="1.02"/><circle cx="263.7" cy="257.5" r="0.96" fill-opacity="0.56" stroke="none"/><circle cx="268.7" cy="258.9" r="0.69" fill-opacity="0.86" stroke="none"/><circle cx="271.0" cy="256.4" r="0.97" fill-opacity="0.77" stroke="none"/><circle cx="276.0" cy="256.9" r="0.80" fill-opacity="0.48" stroke="none"/><circle cx="279.1" cy="255.8" r="1.04" fill-opacity="0.62" stroke="none"/><circle cx="282.8" cy="258.8" r="0.80" fill-opacity="0.67" stroke="none"/><path d="M284.4 255.8 L285.7 256.7" stroke-opacity="0.84" stroke-width="0.88"/><circle cx="289.8" cy="258.2" r="0.91" fill-opacity="0.47" stroke="none"/><path d="M290.7 255.6 L292.7 255.9" stroke-opacity="0.62" stroke-width="1.48"/><path d="M297.0 255.2 L298.4 256.2" stroke-opacity="0.54" stroke-width="1.04"/><circle cx="298.6" cy="257.4" r="0.62" fill-opacity="0.71" stroke="none"/><path d="M303.9 255.4 L302.3 256.0" stroke-opacity="0.60" stroke-width="0.97"/><circle cx="306.8" cy="258.8" r="0.74" fill-opacity="0.77" stroke="none"/><circle cx="311.5" cy="255.7" r="0.70" fill-opacity="0.79" stroke="none"/><path d="M315.9 256.2 L314.0 256.3" stroke-opacity="0.79" stroke-width="1.46"/><circle cx="316.5" cy="257.7" r="1.31" fill-opacity="0.71" stroke="none"/><path d="M324.8 258.6 L324.0 259.3" stroke-opacity="0.70" stroke-width="1.13"/><circle cx="326.6" cy="256.7" r="0.65" fill-opacity="0.65" stroke="none"/><circle cx="333.8" cy="258.0" r="0.97" fill-opacity="0.54" stroke="none"/><circle cx="336.0" cy="255.6" r="0.71" fill-opacity="0.57" stroke="none"/><circle cx="339.6" cy="258.1" r="0.79" fill-opacity="0.78" stroke="none"/><circle cx="344.3" cy="256.7" r="0.71" fill-opacity="0.78" stroke="none"/><path d="M346.1 258.2 L347.6 258.4" stroke-opacity="0.73" stroke-width="1.61"/><path d="M351.5 257.5 L353.0 257.7" stroke-opacity="0.48" stroke-width="1.55"/><circle cx="355.6" cy="257.5" r="0.74" fill-opacity="0.50" stroke="none"/><path d="M357.8 254.8 L357.1 256.6" stroke-opacity="0.69" stroke-width="0.87"/><circle cx="360.5" cy="257.9" r="0.99" fill-opacity="0.70" stroke="none"/><circle cx="365.9" cy="259.0" r="0.94" fill-opacity="0.73" stroke="none"/><path d="M367.9 256.2 L369.4 256.9" stroke-opacity="0.68" stroke-width="1.21"/><circle cx="373.9" cy="258.3" r="0.78" fill-opacity="0.68" stroke="none"/><circle cx="377.1" cy="257.3" r="0.79" fill-opacity="0.61" stroke="none"/><circle cx="378.7" cy="255.9" r="0.63" fill-opacity="0.52" stroke="none"/><path d="M382.4 257.1 L384.5 257.2" stroke-opacity="0.85" stroke-width="1.10"/><circle cx="384.7" cy="256.1" r="0.92" fill-opacity="0.48" stroke="none"/><path d="M389.7 257.3 L388.8 258.0" stroke-opacity="0.60" stroke-width="1.53"/><path d="M393.6 256.5 L393.1 258.0" stroke-opacity="0.54" stroke-width="1.92"/><circle cx="397.8" cy="256.3" r="0.59" fill-opacity="0.87" stroke="none"/><circle cx="237.0" cy="261.5" r="1.28" fill-opacity="0.47" stroke="none"/><circle cx="241.2" cy="262.3" r="0.67" fill-opacity="0.70" stroke="none"/><circle cx="245.4" cy="261.7" r="0.76" fill-opacity="0.76" stroke="none"/><circle cx="246.7" cy="259.4" r="0.96" fill-opacity="0.67" stroke="none"/><circle cx="251.0" cy="259.7" r="1.21" fill-opacity="0.51" stroke="none"/><circle cx="255.3" cy="261.7" r="0.99" fill-opacity="0.89" stroke="none"/><circle cx="257.9" cy="260.5" r="0.87" fill-opacity="0.61" stroke="none"/><path d="M262.5 260.9 L263.1 261.9" stroke-opacity="0.74" stroke-width="1.11"/><circle cx="266.7" cy="260.1" r="0.61" fill-opacity="0.51" stroke="none"/><circle cx="267.2" cy="259.9" r="0.66" fill-opacity="0.84" stroke="none"/><path d="M271.5 259.2 L270.7 260.9" stroke-opacity="0.78" stroke-width="1.03"/><path d="M274.4 258.6 L274.6 260.3" stroke-opacity="0.72" stroke-width="1.42"/><circle cx="277.4" cy="260.5" r="1.04" fill-opacity="0.61" stroke="none"/><path d="M282.0 259.3 L283.4 259.7" stroke-opacity="0.70" stroke-width="0.89"/><circle cx="287.6" cy="261.0" r="1.03" fill-opacity="0.79" stroke="none"/><circle cx="290.3" cy="261.4" r="0.82" fill-opacity="0.64" stroke="none"/><path d="M292.9 260.9 L294.1 261.1" stroke-opacity="0.49" stroke-width="1.44"/><circle cx="299.5" cy="260.7" r="0.69" fill-opacity="0.80" stroke="none"/><path d="M303.6 258.3 L304.9 259.8" stroke-opacity="0.85" stroke-width="0.89"/><path d="M307.5 260.0 L306.9 261.0" stroke-opacity="0.66" stroke-width="0.98"/><circle cx="309.0" cy="260.9" r="0.55" fill-opacity="0.89" stroke="none"/><circle cx="312.3" cy="261.9" r="1.06" fill-opacity="0.79" stroke="none"/><circle cx="316.0" cy="259.5" r="0.67" fill-opacity="0.86" stroke="none"/><circle cx="319.1" cy="260.3" r="0.87" fill-opacity="0.77" stroke="none"/><circle cx="323.7" cy="260.7" r="0.78" fill-opacity="0.76" stroke="none"/><path d="M326.8 259.4 L328.3 259.7" stroke-opacity="0.61" stroke-width="1.12"/><path d="M332.2 258.2 L331.7 260.1" stroke-opacity="0.59" stroke-width="1.10"/><circle cx="333.1" cy="259.4" r="0.93" fill-opacity="0.55" stroke="none"/><circle cx="336.2" cy="259.7" r="0.93" fill-opacity="0.78" stroke="none"/><circle cx="340.6" cy="260.7" r="0.68" fill-opacity="0.81" stroke="none"/><circle cx="346.2" cy="262.3" r="1.05" fill-opacity="0.54" stroke="none"/><circle cx="347.3" cy="260.6" r="0.89" fill-opacity="0.54" stroke="none"/><circle cx="351.5" cy="259.2" r="0.70" fill-opacity="0.64" stroke="none"/><path d="M355.5 259.2 L356.5 259.4" stroke-opacity="0.60" stroke-width="1.37"/><circle cx="358.5" cy="260.4" r="0.70" fill-opacity="0.46" stroke="none"/><path d="M361.3 260.2 L362.3 260.5" stroke-opacity="0.58" stroke-width="0.86"/><path d="M362.7 261.8 L364.5 262.4" stroke-opacity="0.69" stroke-width="1.16"/><circle cx="368.7" cy="260.2" r="0.80" fill-opacity="0.81" stroke="none"/><circle cx="373.0" cy="261.4" r="0.82" fill-opacity="0.71" stroke="none"/><circle cx="376.9" cy="259.2" r="0.86" fill-opacity="0.72" stroke="none"/><path d="M379.6 259.8 L378.4 260.9" stroke-opacity="0.70" stroke-width="1.59"/><circle cx="381.9" cy="262.1" r="0.66" fill-opacity="0.78" stroke="none"/><circle cx="385.2" cy="259.3" r="0.92" fill-opacity="0.48" stroke="none"/><circle cx="387.8" cy="260.7" r="0.60" fill-opacity="0.85" stroke="none"/><circle cx="392.7" cy="260.0" r="0.60" fill-opacity="0.60" stroke="none"/><circle cx="396.1" cy="261.1" r="1.33" fill-opacity="0.86" stroke="none"/><circle cx="236.7" cy="264.1" r="0.85" fill-opacity="0.61" stroke="none"/><path d="M238.9 262.4 L239.9 263.3" stroke-opacity="0.83" stroke-width="1.37"/><circle cx="245.9" cy="263.4" r="1.03" fill-opacity="0.89" stroke="none"/><circle cx="248.8" cy="265.1" r="0.69" fill-opacity="0.69" stroke="none"/><circle cx="251.9" cy="263.0" r="1.07" fill-opacity="0.55" stroke="none"/><circle cx="259.5" cy="265.4" r="0.83" fill-opacity="0.48" stroke="none"/><circle cx="262.9" cy="262.7" r="0.92" fill-opacity="0.67" stroke="none"/><path d="M270.2 264.5 L268.4 265.1" stroke-opacity="0.74" stroke-width="1.10"/><path d="M271.3 263.2 L272.7 263.2" stroke-opacity="0.70" stroke-width="1.34"/><circle cx="274.6" cy="263.3" r="0.90" fill-opacity="0.86" stroke="none"/><circle cx="280.3" cy="264.6" r="0.86" fill-opacity="0.61" stroke="none"/><circle cx="283.0" cy="262.7" r="1.01" fill-opacity="0.75" stroke="none"/><circle cx="287.5" cy="265.3" r="1.16" fill-opacity="0.46" stroke="none"/><circle cx="290.6" cy="264.6" r="0.55" fill-opacity="0.82" stroke="none"/><circle cx="297.5" cy="265.2" r="1.16" fill-opacity="0.85" stroke="none"/><circle cx="299.1" cy="263.7" r="1.14" fill-opacity="0.57" stroke="none"/><circle cx="302.5" cy="263.9" r="0.85" fill-opacity="0.64" stroke="none"/><circle cx="308.3" cy="263.2" r="0.66" fill-opacity="0.46" stroke="none"/><path d="M309.1 263.6 L309.7 264.8" stroke-opacity="0.69" stroke-width="1.02"/><path d="M313.6 264.5 L315.3 265.3" stroke-opacity="0.78" stroke-width="1.47"/><circle cx="318.7" cy="265.2" r="0.83" fill-opacity="0.73" stroke="none"/><path d="M322.4 263.7 L321.7 264.8" stroke-opacity="0.62" stroke-width="1.56"/><circle cx="323.2" cy="264.6" r="0.88" fill-opacity="0.86" stroke="none"/><path d="M327.8 263.0 L329.8 263.7" stroke-opacity="0.71" stroke-width="0.89"/><circle cx="331.5" cy="264.3" r="0.95" fill-opacity="0.48" stroke="none"/><circle cx="334.2" cy="264.0" r="0.90" fill-opacity="0.47" stroke="none"/><circle cx="338.3" cy="262.9" r="0.90" fill-opacity="0.60" stroke="none"/><circle cx="340.8" cy="264.3" r="0.69" fill-opacity="0.85" stroke="none"/><circle cx="344.1" cy="263.2" r="1.03" fill-opacity="0.79" stroke="none"/><circle cx="346.5" cy="263.1" r="0.86" fill-opacity="0.73" stroke="none"/><circle cx="350.6" cy="263.3" r="0.56" fill-opacity="0.67" stroke="none"/><path d="M356.8 262.6 L356.1 264.5" stroke-opacity="0.50" stroke-width="1.22"/><path d="M358.1 262.8 L360.0 263.8" stroke-opacity="0.78" stroke-width="1.45"/><path d="M363.0 263.9 L363.6 264.8" stroke-opacity="0.86" stroke-width="1.10"/><circle cx="364.8" cy="262.8" r="0.65" fill-opacity="0.65" stroke="none"/><path d="M367.9 264.0 L366.8 264.7" stroke-opacity="0.81" stroke-width="1.16"/><circle cx="373.2" cy="262.5" r="0.82" fill-opacity="0.77" stroke="none"/><path d="M375.1 262.6 L374.2 263.8" stroke-opacity="0.70" stroke-width="1.04"/><circle cx="377.8" cy="265.7" r="0.99" fill-opacity="0.63" stroke="none"/><path d="M384.0 265.2 L382.6 266.2" stroke-opacity="0.51" stroke-width="0.83"/><circle cx="384.6" cy="264.7" r="0.62" fill-opacity="0.72" stroke="none"/><path d="M391.4 262.6 L389.7 263.3" stroke-opacity="0.67" stroke-width="0.93"/><path d="M392.6 265.2 L393.1 266.1" stroke-opacity="0.81" stroke-width="1.45"/><circle cx="396.2" cy="265.9" r="0.77" fill-opacity="0.84" stroke="none"/><circle cx="238.9" cy="269.1" r="0.86" fill-opacity="0.48" stroke="none"/><circle cx="243.3" cy="267.9" r="0.78" fill-opacity="0.49" stroke="none"/><circle cx="248.8" cy="268.9" r="0.77" fill-opacity="0.47" stroke="none"/><path d="M251.0 265.9 L251.2 267.0" stroke-opacity="0.50" stroke-width="0.87"/><circle cx="255.3" cy="268.9" r="0.63" fill-opacity="0.57" stroke="none"/><circle cx="258.8" cy="268.1" r="0.65" fill-opacity="0.64" stroke="none"/><circle cx="262.1" cy="266.8" r="0.83" fill-opacity="0.63" stroke="none"/><path d="M263.4 266.0 L265.1 266.0" stroke-opacity="0.84" stroke-width="1.43"/><path d="M269.5 268.6 L268.6 269.5" stroke-opacity="0.72" stroke-width="1.03"/><path d="M273.0 268.4 L272.4 269.6" stroke-opacity="0.71" stroke-width="1.54"/><path d="M274.5 267.6 L273.5 268.5" stroke-opacity="0.80" stroke-width="0.90"/><circle cx="280.5" cy="268.8" r="1.04" fill-opacity="0.72" stroke="none"/><circle cx="282.8" cy="267.1" r="0.83" fill-opacity="0.56" stroke="none"/><circle cx="286.7" cy="266.7" r="0.73" fill-opacity="0.65" stroke="none"/><circle cx="289.4" cy="268.0" r="0.89" fill-opacity="0.70" stroke="none"/><circle cx="291.5" cy="267.5" r="1.02" fill-opacity="0.58" stroke="none"/><path d="M295.6 266.2 L296.6 266.9" stroke-opacity="0.55" stroke-width="0.89"/><circle cx="299.8" cy="266.5" r="0.85" fill-opacity="0.73" stroke="none"/><circle cx="302.5" cy="267.6" r="0.66" fill-opacity="0.78" stroke="none"/><circle cx="310.2" cy="268.6" r="0.74" fill-opacity="0.64" stroke="none"/><circle cx="312.4" cy="269.2" r="1.17" fill-opacity="0.90" stroke="none"/><circle cx="315.6" cy="266.0" r="0.91" fill-opacity="0.73" stroke="none"/><circle cx="321.3" cy="268.0" r="0.82" fill-opacity="0.75" stroke="none"/><path d="M324.5 267.7 L324.5 269.1" stroke-opacity="0.67" stroke-width="1.55"/><circle cx="328.7" cy="266.6" r="0.64" fill-opacity="0.68" stroke="none"/><circle cx="332.0" cy="266.0" r="1.32" fill-opacity="0.65" stroke="none"/><circle cx="333.1" cy="267.2" r="0.98" fill-opacity="0.50" stroke="none"/><circle cx="337.9" cy="268.7" r="0.71" fill-opacity="0.88" stroke="none"/><path d="M340.7 268.6 L341.8 269.2" stroke-opacity="0.67" stroke-width="1.31"/><circle cx="344.3" cy="268.0" r="0.86" fill-opacity="0.66" stroke="none"/><circle cx="347.1" cy="269.3" r="0.72" fill-opacity="0.56" stroke="none"/><circle cx="352.1" cy="266.8" r="0.68" fill-opacity="0.84" stroke="none"/><circle cx="355.2" cy="267.8" r="0.83" fill-opacity="0.88" stroke="none"/><path d="M359.4 265.6 L360.7 266.4" stroke-opacity="0.57" stroke-width="1.44"/><circle cx="360.2" cy="266.5" r="0.58" fill-opacity="0.59" stroke="none"/><circle cx="369.9" cy="268.0" r="1.24" fill-opacity="0.56" stroke="none"/><circle cx="370.8" cy="269.1" r="0.65" fill-opacity="0.67" stroke="none"/><circle cx="375.9" cy="266.3" r="0.64" fill-opacity="0.68" stroke="none"/><circle cx="379.7" cy="268.0" r="1.05" fill-opacity="0.60" stroke="none"/><path d="M381.8 266.3 L383.4 266.8" stroke-opacity="0.50" stroke-width="1.31"/><circle cx="385.2" cy="268.6" r="0.62" fill-opacity="0.76" stroke="none"/><path d="M389.7 267.4 L388.8 268.2" stroke-opacity="0.80" stroke-width="1.45"/><circle cx="392.9" cy="266.6" r="0.69" fill-opacity="0.87" stroke="none"/><path d="M398.4 266.6 L397.4 268.4" stroke-opacity="0.63" stroke-width="1.19"/><path d="M236.9 270.4 L237.0 272.0" stroke-opacity="0.80" stroke-width="1.12"/><circle cx="241.9" cy="270.3" r="0.67" fill-opacity="0.72" stroke="none"/><path d="M243.6 271.2 L244.9 273.0" stroke-opacity="0.67" stroke-width="0.90"/><path d="M247.8 269.9 L249.8 270.0" stroke-opacity="0.55" stroke-width="0.91"/><path d="M252.5 271.3 L253.9 272.6" stroke-opacity="0.79" stroke-width="0.86"/><path d="M256.8 271.0 L258.0 271.3" stroke-opacity="0.69" stroke-width="1.28"/><circle cx="262.1" cy="271.0" r="0.83" fill-opacity="0.74" stroke="none"/><circle cx="265.3" cy="272.4" r="1.29" fill-opacity="0.80" stroke="none"/><circle cx="267.8" cy="269.8" r="0.67" fill-opacity="0.73" stroke="none"/><circle cx="271.9" cy="270.2" r="0.90" fill-opacity="0.85" stroke="none"/><circle cx="275.4" cy="270.9" r="0.93" fill-opacity="0.80" stroke="none"/><circle cx="280.7" cy="270.9" r="0.88" fill-opacity="0.59" stroke="none"/><circle cx="282.7" cy="271.2" r="0.56" fill-opacity="0.58" stroke="none"/><circle cx="290.8" cy="272.8" r="0.69" fill-opacity="0.46" stroke="none"/><path d="M292.1 272.1 L292.1 273.2" stroke-opacity="0.83" stroke-width="1.44"/><path d="M295.4 272.1 L297.1 272.4" stroke-opacity="0.51" stroke-width="1.32"/><circle cx="300.5" cy="270.8" r="1.25" fill-opacity="0.71" stroke="none"/><path d="M303.2 271.2 L301.7 271.4" stroke-opacity="0.76" stroke-width="1.54"/><circle cx="307.5" cy="271.6" r="0.83" fill-opacity="0.56" stroke="none"/><path d="M309.6 270.5 L309.5 272.3" stroke-opacity="0.50" stroke-width="1.01"/><circle cx="314.9" cy="271.5" r="0.69" fill-opacity="0.85" stroke="none"/><path d="M315.8 272.0 L316.3 273.4" stroke-opacity="0.78" stroke-width="0.96"/><circle cx="319.9" cy="270.0" r="0.60" fill-opacity="0.81" stroke="none"/><circle cx="323.6" cy="272.8" r="0.90" fill-opacity="0.83" stroke="none"/><circle cx="327.0" cy="271.4" r="0.73" fill-opacity="0.60" stroke="none"/><circle cx="331.7" cy="269.7" r="0.79" fill-opacity="0.83" stroke="none"/><circle cx="334.8" cy="270.2" r="0.76" fill-opacity="0.88" stroke="none"/><circle cx="337.0" cy="272.7" r="0.67" fill-opacity="0.69" stroke="none"/><circle cx="339.7" cy="270.5" r="0.80" fill-opacity="0.76" stroke="none"/><path d="M342.2 269.9 L343.8 270.1" stroke-opacity="0.58" stroke-width="0.96"/><circle cx="346.9" cy="269.7" r="0.59" fill-opacity="0.51" stroke="none"/><circle cx="352.5" cy="271.1" r="0.74" fill-opacity="0.46" stroke="none"/><path d="M357.1 269.6 L355.0 270.0" stroke-opacity="0.52" stroke-width="1.23"/><circle cx="362.6" cy="271.5" r="0.64" fill-opacity="0.74" stroke="none"/><path d="M364.3 269.9 L363.1 270.9" stroke-opacity="0.67" stroke-width="1.40"/><circle cx="368.4" cy="269.4" r="0.57" fill-opacity="0.88" stroke="none"/><circle cx="373.7" cy="271.3" r="0.60" fill-opacity="0.65" stroke="none"/><circle cx="376.2" cy="270.6" r="0.65" fill-opacity="0.67" stroke="none"/><circle cx="377.5" cy="270.2" r="0.63" fill-opacity="0.66" stroke="none"/><circle cx="383.3" cy="272.1" r="1.14" fill-opacity="0.63" stroke="none"/><circle cx="385.9" cy="270.3" r="0.92" fill-opacity="0.84" stroke="none"/><circle cx="388.0" cy="271.7" r="1.22" fill-opacity="0.67" stroke="none"/><circle cx="391.8" cy="270.1" r="0.81" fill-opacity="0.47" stroke="none"/><circle cx="396.8" cy="270.0" r="1.06" fill-opacity="0.68" stroke="none"/><circle cx="236.8" cy="273.5" r="0.57" fill-opacity="0.74" stroke="none"/><circle cx="242.6" cy="274.3" r="1.01" fill-opacity="0.74" stroke="none"/><circle cx="245.4" cy="273.9" r="0.92" fill-opacity="0.79" stroke="none"/><path d="M248.4 272.6 L249.2 274.3" stroke-opacity="0.74" stroke-width="1.29"/><path d="M250.7 273.8 L249.0 274.8" stroke-opacity="0.55" stroke-width="1.30"/><circle cx="253.9" cy="275.4" r="0.64" fill-opacity="0.59" stroke="none"/><circle cx="257.2" cy="275.4" r="0.68" fill-opacity="0.48" stroke="none"/><circle cx="265.5" cy="273.1" r="0.87" fill-opacity="0.82" stroke="none"/><circle cx="270.3" cy="274.4" r="0.87" fill-opacity="0.80" stroke="none"/><circle cx="271.3" cy="275.9" r="0.72" fill-opacity="0.46" stroke="none"/><circle cx="277.2" cy="274.8" r="0.93" fill-opacity="0.53" stroke="none"/><circle cx="278.0" cy="273.8" r="0.92" fill-opacity="0.70" stroke="none"/><path d="M283.4 274.8 L283.5 276.1" stroke-opacity="0.48" stroke-width="1.41"/><circle cx="284.9" cy="272.9" r="0.58" fill-opacity="0.46" stroke="none"/><path d="M288.8 272.7 L290.2 273.5" stroke-opacity="0.59" stroke-width="1.22"/><circle cx="293.1" cy="275.2" r="0.85" fill-opacity="0.57" stroke="none"/><circle cx="296.6" cy="275.4" r="0.82" fill-opacity="0.86" stroke="none"/><path d="M299.6 273.1 L298.9 274.4" stroke-opacity="0.53" stroke-width="0.92"/><path d="M304.9 274.4 L303.6 274.9" stroke-opacity="0.47" stroke-width="1.07"/><path d="M308.2 273.3 L308.4 275.0" stroke-opacity="0.89" stroke-width="1.16"/><path d="M312.4 273.4 L310.7 274.7" stroke-opacity="0.49" stroke-width="0.88"/><circle cx="313.6" cy="273.2" r="0.80" fill-opacity="0.80" stroke="none"/><circle cx="315.8" cy="273.3" r="0.77" fill-opacity="0.58" stroke="none"/><circle cx="321.3" cy="273.3" r="1.01" fill-opacity="0.55" stroke="none"/><circle cx="323.5" cy="274.1" r="0.90" fill-opacity="0.62" stroke="none"/><path d="M325.8 273.8 L325.9 274.8" stroke-opacity="0.73" stroke-width="1.52"/><circle cx="329.3" cy="273.3" r="0.82" fill-opacity="0.55" stroke="none"/><path d="M335.1 272.5 L334.7 273.5" stroke-opacity="0.53" stroke-width="1.16"/><path d="M336.0 273.8 L337.4 274.7" stroke-opacity="0.88" stroke-width="1.17"/><circle cx="339.9" cy="273.6" r="0.67" fill-opacity="0.46" stroke="none"/><circle cx="345.6" cy="275.8" r="0.70" fill-opacity="0.72" stroke="none"/><circle cx="348.2" cy="273.7" r="0.59" fill-opacity="0.48" stroke="none"/><path d="M352.5 275.5 L353.0 276.8" stroke-opacity="0.73" stroke-width="1.55"/><path d="M354.4 273.4 L352.4 273.9" stroke-opacity="0.67" stroke-width="1.16"/><circle cx="359.4" cy="274.1" r="0.94" fill-opacity="0.61" stroke="none"/><circle cx="360.7" cy="274.3" r="0.91" fill-opacity="0.56" stroke="none"/><circle cx="365.6" cy="276.0" r="0.90" fill-opacity="0.78" stroke="none"/><circle cx="369.1" cy="275.1" r="0.82" fill-opacity="0.87" stroke="none"/><path d="M372.4 273.2 L371.9 274.6" stroke-opacity="0.45" stroke-width="1.30"/><circle cx="375.5" cy="273.2" r="1.04" fill-opacity="0.49" stroke="none"/><circle cx="379.5" cy="274.6" r="1.04" fill-opacity="0.84" stroke="none"/><path d="M384.0 275.1 L382.2 276.2" stroke-opacity="0.55" stroke-width="1.54"/><circle cx="385.9" cy="275.9" r="0.84" fill-opacity="0.85" stroke="none"/><circle cx="391.0" cy="273.9" r="0.93" fill-opacity="0.58" stroke="none"/><circle cx="393.9" cy="276.2" r="0.86" fill-opacity="0.78" stroke="none"/><circle cx="395.6" cy="273.2" r="0.68" fill-opacity="0.71" stroke="none"/><circle cx="236.2" cy="278.7" r="0.61" fill-opacity="0.68" stroke="none"/><circle cx="241.2" cy="279.1" r="0.99" fill-opacity="0.80" stroke="none"/><circle cx="244.5" cy="279.5" r="0.59" fill-opacity="0.74" stroke="none"/><path d="M246.2 277.4 L247.6 278.4" stroke-opacity="0.75" stroke-width="1.25"/><path d="M249.2 276.4 L250.9 276.8" stroke-opacity="0.60" stroke-width="1.14"/><circle cx="259.8" cy="276.7" r="0.73" fill-opacity="0.83" stroke="none"/><circle cx="263.2" cy="279.6" r="0.77" fill-opacity="0.49" stroke="none"/><path d="M265.9 277.0 L265.9 278.1" stroke-opacity="0.51" stroke-width="1.49"/><path d="M268.9 276.1 L269.9 277.3" stroke-opacity="0.69" stroke-width="0.92"/><circle cx="272.7" cy="279.5" r="0.73" fill-opacity="0.54" stroke="none"/><circle cx="274.6" cy="277.0" r="0.97" fill-opacity="0.65" stroke="none"/><circle cx="279.3" cy="277.2" r="0.91" fill-opacity="0.49" stroke="none"/><path d="M281.3 277.0 L282.2 277.9" stroke-opacity="0.47" stroke-width="1.26"/><circle cx="286.6" cy="279.4" r="0.64" fill-opacity="0.59" stroke="none"/><circle cx="290.5" cy="279.3" r="0.56" fill-opacity="0.60" stroke="none"/><path d="M292.8 276.5 L291.8 277.0" stroke-opacity="0.59" stroke-width="0.98"/><circle cx="295.3" cy="277.1" r="1.25" fill-opacity="0.78" stroke="none"/><circle cx="305.7" cy="276.5" r="0.79" fill-opacity="0.84" stroke="none"/><circle cx="309.2" cy="279.7" r="0.57" fill-opacity="0.54" stroke="none"/><circle cx="314.4" cy="278.6" r="1.02" fill-opacity="0.58" stroke="none"/><circle cx="316.9" cy="278.1" r="1.29" fill-opacity="0.63" stroke="none"/><circle cx="319.9" cy="277.4" r="0.75" fill-opacity="0.45" stroke="none"/><path d="M323.6 275.7 L324.0 277.3" stroke-opacity="0.58" stroke-width="1.40"/><path d="M327.3 277.8 L326.5 278.6" stroke-opacity="0.90" stroke-width="1.13"/><circle cx="330.9" cy="276.9" r="0.99" fill-opacity="0.51" stroke="none"/><circle cx="338.7" cy="278.8" r="0.74" fill-opacity="0.59" stroke="none"/><path d="M343.6 276.2 L341.7 276.9" stroke-opacity="0.55" stroke-width="1.35"/><circle cx="344.0" cy="277.8" r="0.60" fill-opacity="0.78" stroke="none"/><path d="M349.6 277.5 L349.6 279.4" stroke-opacity="0.63" stroke-width="0.97"/><circle cx="356.1" cy="279.7" r="0.92" fill-opacity="0.49" stroke="none"/><circle cx="357.0" cy="279.4" r="0.67" fill-opacity="0.49" stroke="none"/><circle cx="363.4" cy="278.5" r="0.63" fill-opacity="0.47" stroke="none"/><path d="M365.8 277.6 L364.7 278.5" stroke-opacity="0.47" stroke-width="1.50"/><circle cx="368.5" cy="277.3" r="0.60" fill-opacity="0.70" stroke="none"/><circle cx="373.0" cy="277.5" r="0.60" fill-opacity="0.59" stroke="none"/><path d="M375.7 275.8 L375.3 277.0" stroke-opacity="0.57" stroke-width="1.47"/><circle cx="377.6" cy="278.5" r="0.94" fill-opacity="0.72" stroke="none"/><circle cx="381.7" cy="277.6" r="1.33" fill-opacity="0.74" stroke="none"/><circle cx="384.6" cy="277.4" r="0.87" fill-opacity="0.74" stroke="none"/><circle cx="387.7" cy="277.0" r="0.73" fill-opacity="0.86" stroke="none"/><circle cx="391.8" cy="277.5" r="0.70" fill-opacity="0.78" stroke="none"/><circle cx="394.7" cy="277.5" r="1.13" fill-opacity="0.58" stroke="none"/><path d="M237.6 280.8 L239.0 282.0" stroke-opacity="0.57" stroke-width="1.12"/><circle cx="239.8" cy="281.5" r="1.27" fill-opacity="0.75" stroke="none"/><path d="M244.2 279.1 L244.9 280.5" stroke-opacity="0.50" stroke-width="0.85"/><path d="M245.7 279.6 L247.3 280.8" stroke-opacity="0.86" stroke-width="2.02"/><circle cx="250.2" cy="282.0" r="1.32" fill-opacity="0.83" stroke="none"/><circle cx="256.4" cy="282.9" r="1.27" fill-opacity="0.80" stroke="none"/><circle cx="258.6" cy="283.0" r="0.56" fill-opacity="0.65" stroke="none"/><circle cx="261.7" cy="283.0" r="0.66" fill-opacity="0.77" stroke="none"/><circle cx="266.7" cy="281.2" r="0.56" fill-opacity="0.59" stroke="none"/><path d="M268.9 281.6 L269.5 283.4" stroke-opacity="0.50" stroke-width="1.51"/><circle cx="273.8" cy="282.8" r="0.92" fill-opacity="0.82" stroke="none"/><circle cx="276.8" cy="282.6" r="0.56" fill-opacity="0.77" stroke="none"/><circle cx="280.2" cy="282.4" r="0.63" fill-opacity="0.75" stroke="none"/><circle cx="283.9" cy="280.5" r="1.02" fill-opacity="0.50" stroke="none"/><circle cx="287.4" cy="281.3" r="0.67" fill-opacity="0.83" stroke="none"/><circle cx="287.8" cy="282.8" r="0.91" fill-opacity="0.88" stroke="none"/><path d="M292.0 279.7 L293.1 280.3" stroke-opacity="0.81" stroke-width="1.20"/><circle cx="294.6" cy="279.8" r="0.74" fill-opacity="0.83" stroke="none"/><circle cx="300.6" cy="281.0" r="0.88" fill-opacity="0.48" stroke="none"/><circle cx="303.0" cy="281.7" r="0.75" fill-opacity="0.68" stroke="none"/><circle cx="305.6" cy="280.2" r="1.03" fill-opacity="0.62" stroke="none"/><circle cx="313.1" cy="282.3" r="1.03" fill-opacity="0.68" stroke="none"/><circle cx="317.4" cy="280.4" r="0.76" fill-opacity="0.76" stroke="none"/><circle cx="320.0" cy="280.6" r="1.17" fill-opacity="0.65" stroke="none"/><circle cx="325.1" cy="281.5" r="0.74" fill-opacity="0.49" stroke="none"/><circle cx="327.3" cy="283.1" r="0.63" fill-opacity="0.53" stroke="none"/><path d="M330.5 280.8 L330.5 282.1" stroke-opacity="0.72" stroke-width="1.33"/><circle cx="334.1" cy="282.4" r="1.26" fill-opacity="0.73" stroke="none"/><circle cx="338.5" cy="280.4" r="0.84" fill-opacity="0.57" stroke="none"/><circle cx="342.8" cy="279.8" r="0.71" fill-opacity="0.71" stroke="none"/><path d="M346.7 281.1 L345.5 281.4" stroke-opacity="0.70" stroke-width="1.39"/><circle cx="348.2" cy="282.9" r="0.96" fill-opacity="0.72" stroke="none"/><circle cx="350.3" cy="281.3" r="0.83" fill-opacity="0.89" stroke="none"/><circle cx="355.2" cy="281.2" r="1.29" fill-opacity="0.53" stroke="none"/><circle cx="357.9" cy="282.3" r="0.90" fill-opacity="0.68" stroke="none"/><path d="M363.2 280.7 L363.2 282.1" stroke-opacity="0.75" stroke-width="1.36"/><circle cx="364.1" cy="280.8" r="0.69" fill-opacity="0.70" stroke="none"/><path d="M370.0 281.6 L368.5 283.1" stroke-opacity="0.74" stroke-width="1.15"/><circle cx="370.7" cy="282.9" r="0.62" fill-opacity="0.73" stroke="none"/><circle cx="376.0" cy="281.6" r="0.81" fill-opacity="0.73" stroke="none"/><path d="M379.7 281.7 L379.9 283.5" stroke-opacity="0.50" stroke-width="1.30"/><path d="M383.5 280.1 L384.7 281.4" stroke-opacity="0.89" stroke-width="1.18"/><path d="M386.0 280.1 L384.9 280.3" stroke-opacity="0.71" stroke-width="1.73"/><circle cx="387.9" cy="281.6" r="1.03" fill-opacity="0.65" stroke="none"/><circle cx="392.0" cy="283.2" r="0.57" fill-opacity="0.57" stroke="none"/><circle cx="395.9" cy="280.8" r="0.78" fill-opacity="0.53" stroke="none"/><path d="M237.4 285.1 L238.3 286.4" stroke-opacity="0.87" stroke-width="0.98"/><path d="M240.0 285.6 L240.2 286.7" stroke-opacity="0.72" stroke-width="1.24"/><circle cx="245.3" cy="286.1" r="1.04" fill-opacity="0.66" stroke="none"/><circle cx="249.5" cy="284.9" r="0.58" fill-opacity="0.62" stroke="none"/><circle cx="251.4" cy="286.2" r="0.76" fill-opacity="0.77" stroke="none"/><path d="M256.3 285.4 L256.3 286.8" stroke-opacity="0.80" stroke-width="1.00"/><path d="M257.4 284.7 L258.4 285.5" stroke-opacity="0.75" stroke-width="1.39"/><path d="M261.5 284.4 L261.5 285.4" stroke-opacity="0.57" stroke-width="1.56"/><circle cx="263.6" cy="285.2" r="0.74" fill-opacity="0.90" stroke="none"/><circle cx="267.3" cy="284.0" r="0.92" fill-opacity="0.61" stroke="none"/><circle cx="271.2" cy="285.2" r="0.95" fill-opacity="0.59" stroke="none"/><path d="M275.9 284.6 L276.6 285.8" stroke-opacity="0.87" stroke-width="1.25"/><path d="M279.1 285.4 L280.8 285.5" stroke-opacity="0.85" stroke-width="1.35"/><circle cx="282.6" cy="284.9" r="0.83" fill-opacity="0.86" stroke="none"/><circle cx="285.8" cy="286.2" r="0.80" fill-opacity="0.59" stroke="none"/><circle cx="291.3" cy="285.0" r="0.85" fill-opacity="0.58" stroke="none"/><circle cx="297.4" cy="284.1" r="0.82" fill-opacity="0.70" stroke="none"/><circle cx="299.9" cy="285.0" r="0.78" fill-opacity="0.57" stroke="none"/><circle cx="301.7" cy="284.5" r="0.88" fill-opacity="0.49" stroke="none"/><circle cx="305.8" cy="285.1" r="0.91" fill-opacity="0.59" stroke="none"/><circle cx="308.5" cy="286.2" r="0.68" fill-opacity="0.74" stroke="none"/><circle cx="312.7" cy="285.1" r="0.97" fill-opacity="0.57" stroke="none"/><circle cx="318.3" cy="284.9" r="1.01" fill-opacity="0.63" stroke="none"/><path d="M323.8 285.4 L324.2 286.4" stroke-opacity="0.75" stroke-width="1.21"/><circle cx="328.4" cy="285.7" r="1.26" fill-opacity="0.50" stroke="none"/><circle cx="329.4" cy="286.2" r="0.62" fill-opacity="0.54" stroke="none"/><path d="M332.4 284.5 L332.8 285.5" stroke-opacity="0.69" stroke-width="1.47"/><circle cx="339.0" cy="285.7" r="1.02" fill-opacity="0.57" stroke="none"/><circle cx="341.3" cy="283.6" r="0.92" fill-opacity="0.51" stroke="none"/><circle cx="344.3" cy="283.7" r="0.72" fill-opacity="0.81" stroke="none"/><circle cx="349.1" cy="283.8" r="0.77" fill-opacity="0.51" stroke="none"/><path d="M352.2 282.7 L351.5 284.1" stroke-opacity="0.76" stroke-width="2.01"/><circle cx="354.0" cy="283.7" r="0.85" fill-opacity="0.79" stroke="none"/><path d="M358.3 283.7 L358.7 284.8" stroke-opacity="0.80" stroke-width="1.15"/><path d="M361.4 283.2 L360.3 283.3" stroke-opacity="0.85" stroke-width="1.11"/><path d="M365.3 283.3 L364.3 284.8" stroke-opacity="0.46" stroke-width="1.09"/><circle cx="373.1" cy="284.4" r="0.69" fill-opacity="0.64" stroke="none"/><circle cx="375.4" cy="286.3" r="0.96" fill-opacity="0.69" stroke="none"/><circle cx="379.6" cy="284.5" r="1.03" fill-opacity="0.83" stroke="none"/><circle cx="382.4" cy="285.8" r="0.89" fill-opacity="0.84" stroke="none"/><circle cx="386.7" cy="284.9" r="0.79" fill-opacity="0.50" stroke="none"/><circle cx="388.3" cy="284.8" r="0.56" fill-opacity="0.84" stroke="none"/><circle cx="393.6" cy="285.2" r="0.63" fill-opacity="0.64" stroke="none"/><circle cx="238.3" cy="289.0" r="1.06" fill-opacity="0.52" stroke="none"/><path d="M241.1 287.2 L241.2 288.9" stroke-opacity="0.55" stroke-width="1.83"/><path d="M243.9 286.3 L245.7 287.4" stroke-opacity="0.58" stroke-width="1.45"/><circle cx="247.6" cy="287.8" r="0.99" fill-opacity="0.86" stroke="none"/><circle cx="252.0" cy="287.1" r="1.06" fill-opacity="0.78" stroke="none"/><circle cx="255.4" cy="287.5" r="0.64" fill-opacity="0.75" stroke="none"/><path d="M257.0 287.3 L258.1 288.2" stroke-opacity="0.87" stroke-width="1.40"/><circle cx="260.8" cy="289.2" r="0.82" fill-opacity="0.51" stroke="none"/><path d="M264.4 289.4 L265.8 290.4" stroke-opacity="0.90" stroke-width="1.15"/><circle cx="269.4" cy="288.4" r="0.72" fill-opacity="0.88" stroke="none"/><circle cx="272.3" cy="289.8" r="1.03" fill-opacity="0.65" stroke="none"/><path d="M276.1 287.9 L275.1 289.2" stroke-opacity="0.83" stroke-width="1.46"/><path d="M277.3 289.2 L278.1 290.4" stroke-opacity="0.71" stroke-width="1.88"/><circle cx="282.0" cy="287.9" r="0.58" fill-opacity="0.51" stroke="none"/><circle cx="285.0" cy="288.2" r="0.79" fill-opacity="0.53" stroke="none"/><circle cx="289.8" cy="290.0" r="0.82" fill-opacity="0.68" stroke="none"/><circle cx="291.4" cy="288.2" r="0.89" fill-opacity="0.47" stroke="none"/><circle cx="296.3" cy="287.3" r="0.67" fill-opacity="0.73" stroke="none"/><path d="M299.4 286.4 L300.1 287.3" stroke-opacity="0.51" stroke-width="0.89"/><path d="M302.6 287.2 L302.7 289.4" stroke-opacity="0.68" stroke-width="0.96"/><circle cx="305.9" cy="288.8" r="0.80" fill-opacity="0.74" stroke="none"/><path d="M310.9 289.4 L312.5 290.6" stroke-opacity="0.81" stroke-width="1.34"/><path d="M312.4 288.9 L311.3 289.6" stroke-opacity="0.86" stroke-width="1.03"/><circle cx="316.6" cy="288.6" r="0.91" fill-opacity="0.54" stroke="none"/><circle cx="319.5" cy="289.3" r="0.76" fill-opacity="0.50" stroke="none"/><path d="M322.6 289.7 L324.2 290.3" stroke-opacity="0.46" stroke-width="1.20"/><circle cx="326.2" cy="287.1" r="0.88" fill-opacity="0.58" stroke="none"/><path d="M331.2 288.1 L330.6 289.1" stroke-opacity="0.73" stroke-width="0.94"/><circle cx="332.7" cy="289.6" r="0.56" fill-opacity="0.61" stroke="none"/><circle cx="338.8" cy="286.7" r="0.84" fill-opacity="0.53" stroke="none"/><circle cx="339.9" cy="289.3" r="0.89" fill-opacity="0.83" stroke="none"/><circle cx="343.1" cy="289.5" r="0.68" fill-opacity="0.87" stroke="none"/><circle cx="349.4" cy="286.7" r="0.65" fill-opacity="0.54" stroke="none"/><circle cx="353.1" cy="287.4" r="0.73" fill-opacity="0.86" stroke="none"/><circle cx="355.8" cy="288.6" r="0.64" fill-opacity="0.81" stroke="none"/><circle cx="360.1" cy="288.3" r="0.63" fill-opacity="0.61" stroke="none"/><circle cx="363.5" cy="290.1" r="0.91" fill-opacity="0.57" stroke="none"/><path d="M365.2 287.7 L365.1 289.5" stroke-opacity="0.47" stroke-width="1.01"/><circle cx="367.9" cy="287.2" r="0.63" fill-opacity="0.57" stroke="none"/><circle cx="370.8" cy="287.2" r="0.81" fill-opacity="0.53" stroke="none"/><path d="M376.9 289.5 L377.6 290.4" stroke-opacity="0.68" stroke-width="0.89"/><circle cx="379.6" cy="287.6" r="1.05" fill-opacity="0.70" stroke="none"/><path d="M383.3 288.5 L384.8 289.7" stroke-opacity="0.65" stroke-width="0.91"/><circle cx="385.0" cy="287.8" r="1.06" fill-opacity="0.64" stroke="none"/><circle cx="389.6" cy="286.9" r="0.71" fill-opacity="0.90" stroke="none"/><circle cx="392.3" cy="287.7" r="0.71" fill-opacity="0.76" stroke="none"/><circle cx="394.7" cy="289.4" r="0.69" fill-opacity="0.83" stroke="none"/><circle cx="236.1" cy="293.0" r="0.56" fill-opacity="0.58" stroke="none"/><circle cx="240.0" cy="293.5" r="0.64" fill-opacity="0.76" stroke="none"/><path d="M243.3 289.4 L242.4 291.0" stroke-opacity="0.88" stroke-width="1.32"/><circle cx="249.4" cy="291.2" r="0.95" fill-opacity="0.69" stroke="none"/><circle cx="251.8" cy="290.6" r="0.94" fill-opacity="0.74" stroke="none"/><path d="M259.4 290.3 L258.7 292.4" stroke-opacity="0.48" stroke-width="1.57"/><path d="M261.8 289.8 L259.8 290.6" stroke-opacity="0.61" stroke-width="1.10"/><circle cx="269.4" cy="290.7" r="0.80" fill-opacity="0.59" stroke="none"/><circle cx="273.2" cy="292.7" r="0.59" fill-opacity="0.50" stroke="none"/><path d="M280.0 292.1 L279.2 293.3" stroke-opacity="0.54" stroke-width="0.93"/><circle cx="281.3" cy="292.3" r="0.77" fill-opacity="0.72" stroke="none"/><circle cx="286.9" cy="290.3" r="0.90" fill-opacity="0.49" stroke="none"/><circle cx="288.4" cy="292.5" r="1.04" fill-opacity="0.67" stroke="none"/><circle cx="292.0" cy="293.3" r="0.75" fill-opacity="0.83" stroke="none"/><circle cx="296.8" cy="293.5" r="0.83" fill-opacity="0.75" stroke="none"/><path d="M299.7 290.3 L298.9 291.1" stroke-opacity="0.80" stroke-width="1.07"/><circle cx="304.3" cy="291.3" r="0.66" fill-opacity="0.54" stroke="none"/><circle cx="305.0" cy="290.1" r="0.78" fill-opacity="0.70" stroke="none"/><path d="M308.3 293.1 L309.4 293.8" stroke-opacity="0.52" stroke-width="1.18"/><circle cx="312.7" cy="291.0" r="0.58" fill-opacity="0.86" stroke="none"/><path d="M315.7 292.7 L315.7 294.3" stroke-opacity="0.47" stroke-width="1.41"/><circle cx="320.7" cy="292.5" r="0.70" fill-opacity="0.57" stroke="none"/><circle cx="322.5" cy="290.5" r="0.58" fill-opacity="0.74" stroke="none"/><path d="M326.0 291.8 L326.6 292.6" stroke-opacity="0.81" stroke-width="1.04"/><circle cx="332.2" cy="291.8" r="0.79" fill-opacity="0.57" stroke="none"/><circle cx="333.6" cy="291.9" r="0.74" fill-opacity="0.50" stroke="none"/><circle cx="339.1" cy="293.1" r="0.77" fill-opacity="0.58" stroke="none"/><path d="M341.5 289.9 L339.9 290.8" stroke-opacity="0.87" stroke-width="1.38"/><circle cx="344.4" cy="292.9" r="1.02" fill-opacity="0.87" stroke="none"/><circle cx="347.8" cy="293.2" r="0.75" fill-opacity="0.62" stroke="none"/><circle cx="352.0" cy="292.2" r="0.89" fill-opacity="0.45" stroke="none"/><circle cx="355.7" cy="292.9" r="1.01" fill-opacity="0.89" stroke="none"/><circle cx="357.3" cy="290.7" r="0.82" fill-opacity="0.85" stroke="none"/><circle cx="363.0" cy="290.3" r="1.05" fill-opacity="0.67" stroke="none"/><circle cx="364.6" cy="290.2" r="1.02" fill-opacity="0.63" stroke="none"/><path d="M370.3 291.2 L370.2 293.2" stroke-opacity="0.61" stroke-width="1.86"/><circle cx="372.3" cy="290.9" r="0.67" fill-opacity="0.59" stroke="none"/><path d="M374.7 290.4 L375.0 291.4" stroke-opacity="0.56" stroke-width="1.53"/><circle cx="379.3" cy="290.9" r="0.95" fill-opacity="0.67" stroke="none"/><path d="M382.8 293.0 L384.0 293.5" stroke-opacity="0.78" stroke-width="1.56"/><circle cx="384.8" cy="290.9" r="0.94" fill-opacity="0.68" stroke="none"/><circle cx="389.7" cy="290.4" r="0.65" fill-opacity="0.66" stroke="none"/><circle cx="392.3" cy="292.1" r="0.70" fill-opacity="0.63" stroke="none"/><circle cx="394.8" cy="293.2" r="1.01" fill-opacity="0.63" stroke="none"/><circle cx="236.7" cy="295.8" r="0.81" fill-opacity="0.89" stroke="none"/><circle cx="241.3" cy="294.4" r="1.13" fill-opacity="0.46" stroke="none"/><path d="M243.6 294.2 L243.4 295.9" stroke-opacity="0.68" stroke-width="1.53"/><path d="M249.7 294.2 L248.4 296.0" stroke-opacity="0.76" stroke-width="1.90"/><circle cx="249.9" cy="294.5" r="0.88" fill-opacity="0.85" stroke="none"/><circle cx="255.0" cy="296.1" r="0.95" fill-opacity="0.52" stroke="none"/><circle cx="256.8" cy="295.5" r="1.03" fill-opacity="0.78" stroke="none"/><circle cx="263.4" cy="295.7" r="0.79" fill-opacity="0.65" stroke="none"/><circle cx="266.3" cy="295.4" r="0.81" fill-opacity="0.77" stroke="none"/><circle cx="269.4" cy="294.4" r="0.61" fill-opacity="0.49" stroke="none"/><circle cx="272.0" cy="296.2" r="0.99" fill-opacity="0.61" stroke="none"/><circle cx="274.3" cy="295.5" r="0.62" fill-opacity="0.58" stroke="none"/><circle cx="281.6" cy="296.9" r="0.95" fill-opacity="0.90" stroke="none"/><path d="M287.5 296.0 L287.6 297.3" stroke-opacity="0.74" stroke-width="1.55"/><circle cx="289.0" cy="293.8" r="0.72" fill-opacity="0.53" stroke="none"/><path d="M294.0 294.8 L292.3 295.4" stroke-opacity="0.76" stroke-width="1.54"/><circle cx="297.2" cy="294.1" r="0.64" fill-opacity="0.82" stroke="none"/><circle cx="300.3" cy="296.9" r="0.77" fill-opacity="0.58" stroke="none"/><path d="M301.9 296.0 L302.3 297.0" stroke-opacity="0.69" stroke-width="0.97"/><circle cx="305.2" cy="294.5" r="0.90" fill-opacity="0.55" stroke="none"/><circle cx="310.3" cy="294.7" r="1.07" fill-opacity="0.58" stroke="none"/><path d="M312.8 295.2 L314.2 295.2" stroke-opacity="0.67" stroke-width="0.95"/><circle cx="316.1" cy="296.0" r="0.85" fill-opacity="0.72" stroke="none"/><circle cx="320.6" cy="295.9" r="0.59" fill-opacity="0.83" stroke="none"/><circle cx="324.7" cy="295.3" r="1.15" fill-opacity="0.66" stroke="none"/><circle cx="328.3" cy="295.1" r="0.92" fill-opacity="0.85" stroke="none"/><circle cx="331.0" cy="295.5" r="0.69" fill-opacity="0.56" stroke="none"/><path d="M333.7 293.4 L332.8 295.1" stroke-opacity="0.59" stroke-width="1.33"/><path d="M338.0 294.6 L338.8 296.6" stroke-opacity="0.84" stroke-width="1.42"/><circle cx="345.8" cy="294.1" r="0.96" fill-opacity="0.54" stroke="none"/><path d="M349.0 295.8 L349.9 297.5" stroke-opacity="0.81" stroke-width="0.95"/><circle cx="351.1" cy="295.0" r="1.05" fill-opacity="0.73" stroke="none"/><circle cx="353.8" cy="295.7" r="0.66" fill-opacity="0.78" stroke="none"/><circle cx="358.5" cy="295.0" r="0.82" fill-opacity="0.75" stroke="none"/><path d="M363.6 296.4 L364.6 296.6" stroke-opacity="0.87" stroke-width="1.55"/><path d="M369.1 295.2 L368.3 296.2" stroke-opacity="0.49" stroke-width="1.27"/><path d="M371.9 296.5 L373.4 297.3" stroke-opacity="0.77" stroke-width="1.96"/><path d="M376.7 292.7 L376.8 294.6" stroke-opacity="0.79" stroke-width="0.88"/><circle cx="383.5" cy="294.6" r="0.82" fill-opacity="0.67" stroke="none"/><circle cx="385.6" cy="296.2" r="1.04" fill-opacity="0.87" stroke="none"/><path d="M390.4 294.8 L388.4 295.7" stroke-opacity="0.54" stroke-width="1.51"/><circle cx="393.2" cy="294.9" r="0.87" fill-opacity="0.76" stroke="none"/><circle cx="396.3" cy="295.1" r="1.18" fill-opacity="0.86" stroke="none"/><circle cx="238.6" cy="297.4" r="0.86" fill-opacity="0.49" stroke="none"/><circle cx="240.6" cy="298.9" r="0.63" fill-opacity="0.56" stroke="none"/><circle cx="244.7" cy="299.8" r="0.93" fill-opacity="0.63" stroke="none"/><circle cx="246.5" cy="300.2" r="0.74" fill-opacity="0.83" stroke="none"/><circle cx="249.8" cy="297.5" r="0.87" fill-opacity="0.81" stroke="none"/><path d="M252.9 299.8 L254.7 301.1" stroke-opacity="0.61" stroke-width="1.17"/><path d="M263.9 299.1 L263.1 300.0" stroke-opacity="0.54" stroke-width="1.28"/><circle cx="263.5" cy="298.1" r="0.61" fill-opacity="0.49" stroke="none"/><path d="M269.5 297.7 L270.9 298.1" stroke-opacity="0.82" stroke-width="0.87"/><circle cx="273.6" cy="298.6" r="0.59" fill-opacity="0.86" stroke="none"/><path d="M276.8 296.9 L276.7 298.2" stroke-opacity="0.71" stroke-width="1.04"/><path d="M277.1 299.3 L278.3 300.1" stroke-opacity="0.75" stroke-width="1.21"/><circle cx="283.3" cy="298.6" r="0.68" fill-opacity="0.88" stroke="none"/><path d="M286.0 298.6 L284.9 299.4" stroke-opacity="0.79" stroke-width="1.22"/><circle cx="288.1" cy="298.4" r="0.57" fill-opacity="0.53" stroke="none"/><circle cx="293.5" cy="299.4" r="0.85" fill-opacity="0.52" stroke="none"/><circle cx="294.6" cy="298.7" r="1.16" fill-opacity="0.79" stroke="none"/><circle cx="299.9" cy="300.4" r="0.70" fill-opacity="0.86" stroke="none"/><circle cx="304.4" cy="299.0" r="0.82" fill-opacity="0.59" stroke="none"/><circle cx="308.3" cy="298.2" r="0.85" fill-opacity="0.59" stroke="none"/><circle cx="311.4" cy="297.4" r="0.98" fill-opacity="0.80" stroke="none"/><circle cx="313.8" cy="297.2" r="0.94" fill-opacity="0.54" stroke="none"/><path d="M318.2 299.2 L316.9 299.6" stroke-opacity="0.85" stroke-width="1.28"/><path d="M319.6 299.2 L318.4 300.0" stroke-opacity="0.65" stroke-width="1.47"/><path d="M321.1 298.0 L323.2 298.1" stroke-opacity="0.71" stroke-width="1.20"/><path d="M328.1 299.0 L328.1 301.2" stroke-opacity="0.55" stroke-width="1.38"/><circle cx="334.7" cy="298.0" r="0.69" fill-opacity="0.90" stroke="none"/><path d="M335.5 299.8 L337.0 300.0" stroke-opacity="0.56" stroke-width="1.45"/><circle cx="344.0" cy="299.6" r="0.93" fill-opacity="0.88" stroke="none"/><circle cx="349.0" cy="299.7" r="0.84" fill-opacity="0.50" stroke="none"/><circle cx="351.4" cy="299.6" r="0.74" fill-opacity="0.73" stroke="none"/><circle cx="357.6" cy="298.5" r="0.78" fill-opacity="0.49" stroke="none"/><circle cx="361.4" cy="300.0" r="0.81" fill-opacity="0.86" stroke="none"/><circle cx="365.6" cy="300.3" r="0.73" fill-opacity="0.52" stroke="none"/><circle cx="369.0" cy="299.1" r="0.81" fill-opacity="0.70" stroke="none"/><path d="M373.7 298.6 L373.8 299.9" stroke-opacity="0.74" stroke-width="0.89"/><circle cx="374.7" cy="297.8" r="0.61" fill-opacity="0.56" stroke="none"/><circle cx="380.3" cy="298.4" r="0.94" fill-opacity="0.62" stroke="none"/><path d="M380.5 299.8 L382.3 300.7" stroke-opacity="0.72" stroke-width="1.15"/><circle cx="385.4" cy="300.0" r="0.77" fill-opacity="0.80" stroke="none"/><circle cx="391.1" cy="297.7" r="0.81" fill-opacity="0.70" stroke="none"/><path d="M393.5 297.2 L394.2 298.6" stroke-opacity="0.85" stroke-width="1.33"/><circle cx="396.4" cy="300.2" r="0.97" fill-opacity="0.85" stroke="none"/><circle cx="236.3" cy="302.3" r="0.74" fill-opacity="0.56" stroke="none"/><circle cx="241.3" cy="303.1" r="0.70" fill-opacity="0.72" stroke="none"/><circle cx="245.5" cy="303.2" r="0.61" fill-opacity="0.57" stroke="none"/><circle cx="249.3" cy="302.0" r="0.59" fill-opacity="0.47" stroke="none"/><circle cx="249.8" cy="303.6" r="0.72" fill-opacity="0.80" stroke="none"/><circle cx="256.5" cy="302.0" r="0.76" fill-opacity="0.74" stroke="none"/><path d="M258.7 301.9 L258.5 303.1" stroke-opacity="0.57" stroke-width="1.82"/><circle cx="263.4" cy="301.1" r="0.88" fill-opacity="0.68" stroke="none"/><circle cx="266.1" cy="301.9" r="1.32" fill-opacity="0.54" stroke="none"/><circle cx="268.6" cy="302.5" r="0.62" fill-opacity="0.74" stroke="none"/><circle cx="271.3" cy="301.3" r="0.61" fill-opacity="0.55" stroke="none"/><circle cx="276.4" cy="302.3" r="0.73" fill-opacity="0.48" stroke="none"/><circle cx="280.2" cy="301.3" r="0.62" fill-opacity="0.62" stroke="none"/><circle cx="281.9" cy="300.9" r="0.93" fill-opacity="0.53" stroke="none"/><circle cx="284.8" cy="300.5" r="0.57" fill-opacity="0.75" stroke="none"/><path d="M290.2 300.2 L289.1 300.8" stroke-opacity="0.47" stroke-width="1.46"/><path d="M293.2 303.6 L294.5 304.1" stroke-opacity="0.51" stroke-width="1.60"/><path d="M298.3 301.4 L298.9 302.2" stroke-opacity="0.48" stroke-width="0.94"/><circle cx="309.8" cy="302.4" r="0.76" fill-opacity="0.86" stroke="none"/><circle cx="313.8" cy="303.7" r="1.05" fill-opacity="0.68" stroke="none"/><circle cx="316.6" cy="302.7" r="1.04" fill-opacity="0.63" stroke="none"/><circle cx="319.8" cy="302.9" r="0.94" fill-opacity="0.59" stroke="none"/><path d="M322.9 301.8 L324.4 302.4" stroke-opacity="0.51" stroke-width="1.39"/><path d="M328.1 300.5 L329.5 301.8" stroke-opacity="0.58" stroke-width="1.40"/><path d="M331.5 300.7 L333.1 301.2" stroke-opacity="0.60" stroke-width="1.20"/><path d="M333.0 303.6 L334.5 304.1" stroke-opacity="0.61" stroke-width="1.10"/><circle cx="338.7" cy="300.7" r="1.00" fill-opacity="0.61" stroke="none"/><path d="M340.6 300.3 L340.2 301.8" stroke-opacity="0.68" stroke-width="1.05"/><circle cx="343.5" cy="303.6" r="0.71" fill-opacity="0.59" stroke="none"/><circle cx="347.6" cy="303.8" r="0.73" fill-opacity="0.70" stroke="none"/><circle cx="352.2" cy="301.9" r="1.01" fill-opacity="0.54" stroke="none"/><path d="M353.8 302.0 L353.7 304.1" stroke-opacity="0.86" stroke-width="1.08"/><circle cx="359.7" cy="301.8" r="0.79" fill-opacity="0.77" stroke="none"/><path d="M362.8 300.7 L362.6 301.7" stroke-opacity="0.79" stroke-width="1.42"/><circle cx="367.8" cy="302.5" r="0.83" fill-opacity="0.80" stroke="none"/><circle cx="375.8" cy="302.2" r="0.57" fill-opacity="0.85" stroke="none"/><circle cx="378.0" cy="302.6" r="0.71" fill-opacity="0.81" stroke="none"/><circle cx="383.5" cy="302.9" r="0.62" fill-opacity="0.61" stroke="none"/><path d="M384.1 301.9 L385.5 302.3" stroke-opacity="0.52" stroke-width="1.02"/><path d="M388.6 300.6 L387.8 301.5" stroke-opacity="0.58" stroke-width="0.88"/><path d="M390.7 302.3 L392.5 303.3" stroke-opacity="0.49" stroke-width="1.87"/><circle cx="397.2" cy="303.1" r="0.76" fill-opacity="0.64" stroke="none"/><path d="M237.4 305.7 L237.7 307.0" stroke-opacity="0.72" stroke-width="1.46"/><circle cx="239.5" cy="305.3" r="0.85" fill-opacity="0.50" stroke="none"/><circle cx="243.8" cy="305.0" r="1.05" fill-opacity="0.48" stroke="none"/><circle cx="249.5" cy="305.9" r="0.77" fill-opacity="0.70" stroke="none"/><path d="M251.8 306.1 L251.6 307.2" stroke-opacity="0.72" stroke-width="1.98"/><path d="M256.1 304.5 L255.4 305.8" stroke-opacity="0.65" stroke-width="1.49"/><circle cx="259.6" cy="304.6" r="0.81" fill-opacity="0.56" stroke="none"/><circle cx="263.3" cy="305.9" r="0.97" fill-opacity="0.87" stroke="none"/><path d="M267.2 306.4 L265.3 306.8" stroke-opacity="0.75" stroke-width="1.37"/><path d="M269.1 303.7 L268.5 305.4" stroke-opacity="0.51" stroke-width="1.29"/><path d="M270.4 304.1 L270.6 305.9" stroke-opacity="0.81" stroke-width="1.51"/><circle cx="275.5" cy="305.8" r="0.58" fill-opacity="0.52" stroke="none"/><circle cx="280.4" cy="304.9" r="0.87" fill-opacity="0.75" stroke="none"/><circle cx="283.9" cy="306.2" r="1.28" fill-opacity="0.57" stroke="none"/><circle cx="286.4" cy="305.2" r="0.73" fill-opacity="0.53" stroke="none"/><circle cx="288.9" cy="304.3" r="0.86" fill-opacity="0.70" stroke="none"/><path d="M293.4 305.4 L294.1 306.6" stroke-opacity="0.68" stroke-width="1.80"/><circle cx="295.5" cy="304.5" r="0.83" fill-opacity="0.65" stroke="none"/><path d="M300.7 306.8 L301.7 307.3" stroke-opacity="0.87" stroke-width="1.32"/><circle cx="304.7" cy="306.9" r="0.55" fill-opacity="0.50" stroke="none"/><path d="M306.6 304.2 L307.1 306.0" stroke-opacity="0.87" stroke-width="1.30"/><circle cx="310.5" cy="304.9" r="0.66" fill-opacity="0.70" stroke="none"/><circle cx="313.9" cy="305.2" r="1.04" fill-opacity="0.66" stroke="none"/><circle cx="316.1" cy="307.0" r="0.76" fill-opacity="0.87" stroke="none"/><circle cx="319.4" cy="305.2" r="0.89" fill-opacity="0.73" stroke="none"/><circle cx="323.1" cy="306.0" r="1.25" fill-opacity="0.84" stroke="none"/><path d="M327.6 304.2 L328.0 305.3" stroke-opacity="0.81" stroke-width="1.42"/><path d="M332.4 305.7 L330.5 306.0" stroke-opacity="0.65" stroke-width="1.38"/><circle cx="334.4" cy="304.6" r="0.58" fill-opacity="0.75" stroke="none"/><path d="M336.3 304.4 L336.9 306.4" stroke-opacity="0.56" stroke-width="1.39"/><path d="M339.2 303.6 L340.4 305.2" stroke-opacity="0.74" stroke-width="1.33"/><circle cx="345.4" cy="306.8" r="0.71" fill-opacity="0.78" stroke="none"/><circle cx="348.4" cy="306.0" r="1.34" fill-opacity="0.75" stroke="none"/><path d="M352.0 304.8 L350.8 306.0" stroke-opacity="0.56" stroke-width="1.19"/><path d="M354.4 305.4 L353.3 305.5" stroke-opacity="0.61" stroke-width="0.95"/><circle cx="357.0" cy="307.0" r="0.98" fill-opacity="0.59" stroke="none"/><circle cx="362.3" cy="304.1" r="0.82" fill-opacity="0.57" stroke="none"/><circle cx="363.8" cy="307.1" r="0.95" fill-opacity="0.87" stroke="none"/><circle cx="368.5" cy="307.1" r="0.60" fill-opacity="0.79" stroke="none"/><circle cx="372.7" cy="306.9" r="0.94" fill-opacity="0.71" stroke="none"/><path d="M374.2 303.5 L374.6 305.6" stroke-opacity="0.58" stroke-width="1.09"/><circle cx="378.1" cy="305.2" r="0.56" fill-opacity="0.53" stroke="none"/><circle cx="383.2" cy="304.3" r="1.01" fill-opacity="0.79" stroke="none"/><circle cx="384.9" cy="304.4" r="0.89" fill-opacity="0.66" stroke="none"/><circle cx="391.0" cy="304.7" r="0.95" fill-opacity="0.88" stroke="none"/><path d="M393.0 305.4 L395.1 305.8" stroke-opacity="0.60" stroke-width="0.99"/><circle cx="397.5" cy="304.9" r="1.02" fill-opacity="0.47" stroke="none"/><circle cx="238.5" cy="309.7" r="1.34" fill-opacity="0.72" stroke="none"/><path d="M240.5 308.3 L239.7 309.9" stroke-opacity="0.81" stroke-width="1.51"/><circle cx="243.3" cy="309.4" r="0.76" fill-opacity="0.61" stroke="none"/><path d="M248.0 307.2 L248.1 308.2" stroke-opacity="0.77" stroke-width="0.88"/><path d="M252.6 309.2 L253.3 310.6" stroke-opacity="0.79" stroke-width="1.17"/><path d="M254.8 307.9 L254.7 309.2" stroke-opacity="0.65" stroke-width="1.27"/><circle cx="257.7" cy="309.8" r="0.55" fill-opacity="0.60" stroke="none"/><circle cx="262.7" cy="310.3" r="1.26" fill-opacity="0.64" stroke="none"/><circle cx="264.5" cy="308.3" r="0.94" fill-opacity="0.73" stroke="none"/><circle cx="269.2" cy="308.6" r="0.81" fill-opacity="0.84" stroke="none"/><path d="M271.1 307.3 L272.3 309.1" stroke-opacity="0.59" stroke-width="1.15"/><path d="M275.7 307.3 L274.9 309.1" stroke-opacity="0.73" stroke-width="1.07"/><circle cx="278.1" cy="309.3" r="0.99" fill-opacity="0.82" stroke="none"/><circle cx="283.5" cy="309.3" r="0.74" fill-opacity="0.50" stroke="none"/><circle cx="286.4" cy="307.5" r="0.56" fill-opacity="0.76" stroke="none"/><circle cx="290.1" cy="307.5" r="1.01" fill-opacity="0.55" stroke="none"/><circle cx="293.7" cy="308.9" r="0.75" fill-opacity="0.52" stroke="none"/><circle cx="297.2" cy="309.0" r="0.68" fill-opacity="0.50" stroke="none"/><path d="M298.8 310.1 L299.9 311.3" stroke-opacity="0.55" stroke-width="1.09"/><circle cx="303.1" cy="310.2" r="0.85" fill-opacity="0.68" stroke="none"/><path d="M307.5 307.8 L308.7 309.4" stroke-opacity="0.82" stroke-width="0.98"/><path d="M310.0 308.4 L311.5 309.0" stroke-opacity="0.84" stroke-width="1.53"/><circle cx="315.1" cy="308.5" r="0.58" fill-opacity="0.67" stroke="none"/><circle cx="317.7" cy="309.1" r="1.01" fill-opacity="0.84" stroke="none"/><path d="M321.3 307.8 L320.5 309.7" stroke-opacity="0.52" stroke-width="1.01"/><circle cx="326.3" cy="307.6" r="0.96" fill-opacity="0.61" stroke="none"/><circle cx="331.5" cy="308.0" r="1.01" fill-opacity="0.87" stroke="none"/><circle cx="334.2" cy="308.2" r="1.18" fill-opacity="0.70" stroke="none"/><path d="M339.4 307.6 L338.2 308.0" stroke-opacity="0.68" stroke-width="0.98"/><circle cx="340.8" cy="308.4" r="0.80" fill-opacity="0.81" stroke="none"/><circle cx="345.7" cy="308.7" r="1.32" fill-opacity="0.55" stroke="none"/><circle cx="347.1" cy="310.3" r="0.96" fill-opacity="0.62" stroke="none"/><circle cx="351.1" cy="307.4" r="0.83" fill-opacity="0.58" stroke="none"/><circle cx="355.0" cy="308.1" r="0.82" fill-opacity="0.52" stroke="none"/><circle cx="357.1" cy="309.8" r="0.95" fill-opacity="0.64" stroke="none"/><circle cx="363.1" cy="307.9" r="0.79" fill-opacity="0.52" stroke="none"/><path d="M364.2 306.9 L365.4 308.4" stroke-opacity="0.57" stroke-width="1.10"/><path d="M368.2 309.5 L369.3 309.7" stroke-opacity="0.79" stroke-width="1.44"/><circle cx="370.6" cy="309.4" r="0.88" fill-opacity="0.65" stroke="none"/><circle cx="376.5" cy="307.7" r="0.80" fill-opacity="0.64" stroke="none"/><path d="M380.2 307.5 L381.2 308.7" stroke-opacity="0.82" stroke-width="1.51"/><circle cx="381.3" cy="309.1" r="0.79" fill-opacity="0.78" stroke="none"/><circle cx="385.1" cy="308.5" r="0.93" fill-opacity="0.89" stroke="none"/><path d="M389.5 308.8 L390.1 310.8" stroke-opacity="0.53" stroke-width="1.43"/><circle cx="394.0" cy="308.4" r="0.99" fill-opacity="0.90" stroke="none"/><circle cx="395.2" cy="310.3" r="0.61" fill-opacity="0.84" stroke="none"/><circle cx="236.6" cy="314.0" r="0.98" fill-opacity="0.63" stroke="none"/><circle cx="239.7" cy="310.9" r="0.73" fill-opacity="0.83" stroke="none"/><circle cx="244.8" cy="311.6" r="0.88" fill-opacity="0.57" stroke="none"/><path d="M247.7 312.3 L249.4 312.3" stroke-opacity="0.81" stroke-width="1.36"/><path d="M257.0 312.7 L254.8 313.1" stroke-opacity="0.63" stroke-width="0.83"/><circle cx="258.6" cy="313.5" r="1.04" fill-opacity="0.62" stroke="none"/><circle cx="260.3" cy="314.0" r="0.80" fill-opacity="0.78" stroke="none"/><circle cx="265.9" cy="313.7" r="0.74" fill-opacity="0.71" stroke="none"/><path d="M267.2 311.0 L266.9 312.3" stroke-opacity="0.73" stroke-width="1.47"/><circle cx="276.9" cy="312.1" r="0.94" fill-opacity="0.53" stroke="none"/><path d="M279.5 312.6 L281.1 312.9" stroke-opacity="0.58" stroke-width="0.85"/><circle cx="282.5" cy="311.3" r="0.95" fill-opacity="0.89" stroke="none"/><path d="M284.4 311.9 L285.3 312.6" stroke-opacity="0.62" stroke-width="0.88"/><circle cx="288.8" cy="314.2" r="0.90" fill-opacity="0.61" stroke="none"/><circle cx="294.5" cy="311.7" r="0.71" fill-opacity="0.46" stroke="none"/><circle cx="297.2" cy="311.5" r="0.82" fill-opacity="0.71" stroke="none"/><path d="M297.4 313.3 L299.0 314.5" stroke-opacity="0.45" stroke-width="1.39"/><circle cx="302.8" cy="311.5" r="0.61" fill-opacity="0.66" stroke="none"/><path d="M305.0 312.5 L306.4 312.7" stroke-opacity="0.82" stroke-width="1.37"/><circle cx="311.3" cy="314.1" r="0.81" fill-opacity="0.71" stroke="none"/><path d="M313.5 313.1 L314.4 314.4" stroke-opacity="0.65" stroke-width="0.94"/><circle cx="317.3" cy="314.2" r="1.04" fill-opacity="0.85" stroke="none"/><circle cx="321.1" cy="313.4" r="0.96" fill-opacity="0.74" stroke="none"/><circle cx="325.0" cy="313.8" r="0.97" fill-opacity="0.57" stroke="none"/><circle cx="328.5" cy="311.1" r="0.82" fill-opacity="0.56" stroke="none"/><circle cx="333.1" cy="311.4" r="0.83" fill-opacity="0.45" stroke="none"/><circle cx="336.2" cy="313.9" r="0.60" fill-opacity="0.71" stroke="none"/><circle cx="345.7" cy="314.0" r="0.91" fill-opacity="0.83" stroke="none"/><path d="M348.8 312.7 L349.6 314.1" stroke-opacity="0.84" stroke-width="1.98"/><path d="M350.9 312.8 L350.6 314.9" stroke-opacity="0.68" stroke-width="1.76"/><path d="M355.2 313.1 L355.8 314.2" stroke-opacity="0.77" stroke-width="1.15"/><circle cx="357.5" cy="313.7" r="0.75" fill-opacity="0.50" stroke="none"/><circle cx="362.3" cy="313.8" r="0.71" fill-opacity="0.82" stroke="none"/><path d="M363.9 313.5 L365.5 314.5" stroke-opacity="0.78" stroke-width="1.57"/><circle cx="367.3" cy="312.9" r="0.88" fill-opacity="0.87" stroke="none"/><circle cx="370.7" cy="313.9" r="0.99" fill-opacity="0.88" stroke="none"/><circle cx="374.6" cy="312.6" r="0.86" fill-opacity="0.51" stroke="none"/><circle cx="380.7" cy="312.9" r="0.66" fill-opacity="0.80" stroke="none"/><path d="M381.0 311.4 L380.9 312.7" stroke-opacity="0.54" stroke-width="1.46"/><path d="M384.1 311.8 L385.1 313.1" stroke-opacity="0.77" stroke-width="1.02"/><path d="M391.0 310.9 L391.1 313.1" stroke-opacity="0.68" stroke-width="1.54"/><circle cx="392.2" cy="311.1" r="1.10" fill-opacity="0.49" stroke="none"/><circle cx="395.9" cy="313.6" r="1.24" fill-opacity="0.85" stroke="none"/><circle cx="238.2" cy="315.1" r="1.00" fill-opacity="0.66" stroke="none"/><circle cx="241.3" cy="316.5" r="1.02" fill-opacity="0.54" stroke="none"/><path d="M244.6 317.1 L244.1 318.1" stroke-opacity="0.50" stroke-width="1.48"/><circle cx="247.3" cy="317.0" r="0.68" fill-opacity="0.81" stroke="none"/><circle cx="250.0" cy="315.8" r="0.77" fill-opacity="0.58" stroke="none"/><circle cx="255.7" cy="317.0" r="0.79" fill-opacity="0.64" stroke="none"/><circle cx="256.6" cy="317.2" r="0.57" fill-opacity="0.73" stroke="none"/><circle cx="265.1" cy="316.9" r="0.81" fill-opacity="0.59" stroke="none"/><circle cx="269.4" cy="316.4" r="0.91" fill-opacity="0.72" stroke="none"/><circle cx="270.5" cy="315.1" r="0.63" fill-opacity="0.60" stroke="none"/><circle cx="274.8" cy="315.8" r="1.25" fill-opacity="0.50" stroke="none"/><circle cx="277.3" cy="316.7" r="0.68" fill-opacity="0.46" stroke="none"/><circle cx="283.0" cy="314.5" r="0.91" fill-opacity="0.47" stroke="none"/><circle cx="285.4" cy="315.7" r="0.95" fill-opacity="0.86" stroke="none"/><circle cx="290.6" cy="314.6" r="0.56" fill-opacity="0.79" stroke="none"/><circle cx="292.6" cy="316.4" r="0.58" fill-opacity="0.63" stroke="none"/><path d="M297.5 314.0 L297.7 315.1" stroke-opacity="0.62" stroke-width="1.17"/><circle cx="299.0" cy="317.3" r="0.66" fill-opacity="0.53" stroke="none"/><path d="M305.1 315.7 L303.8 316.3" stroke-opacity="0.69" stroke-width="1.09"/><circle cx="305.3" cy="316.0" r="1.04" fill-opacity="0.48" stroke="none"/><circle cx="309.0" cy="316.0" r="0.87" fill-opacity="0.72" stroke="none"/><circle cx="314.0" cy="315.4" r="1.04" fill-opacity="0.53" stroke="none"/><circle cx="316.1" cy="314.4" r="0.81" fill-opacity="0.73" stroke="none"/><circle cx="321.5" cy="316.7" r="0.67" fill-opacity="0.65" stroke="none"/><circle cx="324.0" cy="316.1" r="0.92" fill-opacity="0.46" stroke="none"/><path d="M327.8 316.6 L327.3 317.8" stroke-opacity="0.88" stroke-width="1.21"/><circle cx="331.3" cy="314.7" r="0.72" fill-opacity="0.65" stroke="none"/><circle cx="334.4" cy="314.6" r="1.02" fill-opacity="0.49" stroke="none"/><circle cx="338.2" cy="315.0" r="0.64" fill-opacity="0.69" stroke="none"/><path d="M339.9 315.9 L340.4 317.1" stroke-opacity="0.67" stroke-width="1.51"/><path d="M343.1 317.3 L344.3 318.0" stroke-opacity="0.74" stroke-width="1.05"/><circle cx="349.1" cy="316.3" r="0.83" fill-opacity="0.89" stroke="none"/><path d="M349.6 315.2 L350.1 316.4" stroke-opacity="0.76" stroke-width="1.99"/><circle cx="355.9" cy="314.4" r="0.66" fill-opacity="0.73" stroke="none"/><circle cx="357.8" cy="317.3" r="0.70" fill-opacity="0.52" stroke="none"/><circle cx="362.2" cy="314.4" r="0.92" fill-opacity="0.74" stroke="none"/><circle cx="365.6" cy="315.7" r="0.70" fill-opacity="0.67" stroke="none"/><path d="M368.3 313.9 L368.7 315.3" stroke-opacity="0.66" stroke-width="1.76"/><circle cx="371.7" cy="315.5" r="0.59" fill-opacity="0.90" stroke="none"/><path d="M374.9 315.9 L376.0 317.7" stroke-opacity="0.89" stroke-width="1.49"/><circle cx="379.9" cy="317.0" r="0.79" fill-opacity="0.60" stroke="none"/><circle cx="383.1" cy="314.3" r="0.79" fill-opacity="0.87" stroke="none"/><circle cx="386.7" cy="315.6" r="0.76" fill-opacity="0.78" stroke="none"/><circle cx="388.2" cy="316.2" r="1.00" fill-opacity="0.59" stroke="none"/><circle cx="393.2" cy="316.0" r="0.66" fill-opacity="0.49" stroke="none"/><path d="M397.7 315.3 L396.5 315.9" stroke-opacity="0.86" stroke-width="1.54"/><circle cx="238.6" cy="319.5" r="1.15" fill-opacity="0.47" stroke="none"/><circle cx="240.2" cy="320.0" r="0.88" fill-opacity="0.46" stroke="none"/><circle cx="244.1" cy="321.0" r="0.59" fill-opacity="0.89" stroke="none"/><circle cx="248.1" cy="319.3" r="0.96" fill-opacity="0.51" stroke="none"/><circle cx="250.2" cy="318.1" r="1.04" fill-opacity="0.82" stroke="none"/><circle cx="256.6" cy="320.5" r="0.59" fill-opacity="0.51" stroke="none"/><path d="M258.4 317.7 L259.4 318.8" stroke-opacity="0.50" stroke-width="1.21"/><path d="M263.3 317.6 L263.3 319.1" stroke-opacity="0.55" stroke-width="1.22"/><circle cx="265.3" cy="318.0" r="0.60" fill-opacity="0.48" stroke="none"/><circle cx="270.2" cy="320.2" r="0.80" fill-opacity="0.69" stroke="none"/><circle cx="272.0" cy="320.9" r="0.67" fill-opacity="0.74" stroke="none"/><circle cx="274.6" cy="318.0" r="0.62" fill-opacity="0.83" stroke="none"/><circle cx="278.2" cy="320.8" r="1.05" fill-opacity="0.48" stroke="none"/><path d="M283.7 319.0 L284.3 320.6" stroke-opacity="0.79" stroke-width="1.23"/><circle cx="285.2" cy="318.4" r="0.68" fill-opacity="0.46" stroke="none"/><circle cx="290.2" cy="321.0" r="0.88" fill-opacity="0.85" stroke="none"/><path d="M293.7 318.5 L294.5 319.8" stroke-opacity="0.78" stroke-width="1.02"/><path d="M296.8 317.2 L298.0 318.2" stroke-opacity="0.80" stroke-width="1.50"/><path d="M299.0 318.4 L298.6 319.4" stroke-opacity="0.76" stroke-width="1.53"/><circle cx="304.6" cy="317.9" r="1.30" fill-opacity="0.59" stroke="none"/><path d="M305.1 317.6 L306.0 318.2" stroke-opacity="0.48" stroke-width="1.01"/><path d="M310.2 319.0 L312.2 319.3" stroke-opacity="0.53" stroke-width="1.47"/><circle cx="313.8" cy="319.5" r="1.00" fill-opacity="0.81" stroke="none"/><circle cx="316.0" cy="320.7" r="0.56" fill-opacity="0.60" stroke="none"/><path d="M318.6 320.2 L319.7 322.0" stroke-opacity="0.61" stroke-width="1.26"/><path d="M323.7 319.7 L325.5 320.0" stroke-opacity="0.86" stroke-width="1.50"/><circle cx="328.6" cy="319.4" r="0.69" fill-opacity="0.70" stroke="none"/><path d="M330.3 320.3 L331.5 321.2" stroke-opacity="0.83" stroke-width="1.17"/><circle cx="332.8" cy="320.5" r="0.88" fill-opacity="0.53" stroke="none"/><circle cx="337.1" cy="318.4" r="0.69" fill-opacity="0.62" stroke="none"/><path d="M342.1 319.4 L342.9 320.2" stroke-opacity="0.49" stroke-width="1.31"/><circle cx="345.2" cy="320.3" r="0.82" fill-opacity="0.74" stroke="none"/><circle cx="347.6" cy="319.5" r="0.62" fill-opacity="0.66" stroke="none"/><path d="M350.4 320.4 L351.1 321.6" stroke-opacity="0.68" stroke-width="1.29"/><circle cx="353.5" cy="317.8" r="1.00" fill-opacity="0.58" stroke="none"/><path d="M362.1 319.1 L360.1 319.7" stroke-opacity="0.76" stroke-width="1.48"/><circle cx="366.4" cy="320.9" r="1.02" fill-opacity="0.59" stroke="none"/><circle cx="369.9" cy="319.8" r="0.88" fill-opacity="0.62" stroke="none"/><circle cx="370.8" cy="320.8" r="0.95" fill-opacity="0.85" stroke="none"/><circle cx="375.0" cy="319.5" r="0.95" fill-opacity="0.59" stroke="none"/><path d="M378.6 320.1 L376.9 320.7" stroke-opacity="0.76" stroke-width="1.33"/><path d="M380.6 318.3 L381.7 318.5" stroke-opacity="0.51" stroke-width="1.04"/><circle cx="384.6" cy="318.8" r="0.63" fill-opacity="0.71" stroke="none"/><path d="M389.2 319.9 L387.8 320.0" stroke-opacity="0.56" stroke-width="1.15"/><circle cx="393.3" cy="317.9" r="0.66" fill-opacity="0.54" stroke="none"/><circle cx="395.7" cy="320.4" r="1.00" fill-opacity="0.77" stroke="none"/><circle cx="237.1" cy="323.2" r="1.03" fill-opacity="0.76" stroke="none"/><path d="M239.8 323.9 L239.7 325.3" stroke-opacity="0.66" stroke-width="1.52"/><circle cx="245.9" cy="324.3" r="0.88" fill-opacity="0.75" stroke="none"/><circle cx="248.3" cy="324.6" r="0.99" fill-opacity="0.47" stroke="none"/><circle cx="250.8" cy="321.4" r="0.78" fill-opacity="0.70" stroke="none"/><circle cx="256.1" cy="321.3" r="0.79" fill-opacity="0.71" stroke="none"/><path d="M257.6 321.5 L256.5 322.5" stroke-opacity="0.70" stroke-width="1.39"/><circle cx="260.3" cy="323.8" r="0.91" fill-opacity="0.88" stroke="none"/><path d="M264.8 322.8 L263.2 322.9" stroke-opacity="0.55" stroke-width="1.09"/><path d="M269.5 322.7 L269.5 324.6" stroke-opacity="0.59" stroke-width="1.41"/><path d="M273.2 321.1 L273.8 322.0" stroke-opacity="0.53" stroke-width="1.11"/><circle cx="275.7" cy="321.6" r="0.76" fill-opacity="0.70" stroke="none"/><path d="M277.6 321.6 L277.8 323.0" stroke-opacity="0.56" stroke-width="1.49"/><circle cx="280.8" cy="321.9" r="0.60" fill-opacity="0.68" stroke="none"/><circle cx="286.2" cy="321.2" r="0.62" fill-opacity="0.69" stroke="none"/><circle cx="289.6" cy="322.0" r="0.93" fill-opacity="0.61" stroke="none"/><circle cx="293.4" cy="323.2" r="0.97" fill-opacity="0.75" stroke="none"/><circle cx="296.8" cy="322.1" r="1.02" fill-opacity="0.59" stroke="none"/><circle cx="299.6" cy="324.5" r="0.81" fill-opacity="0.45" stroke="none"/><path d="M304.3 324.2 L302.5 324.9" stroke-opacity="0.87" stroke-width="1.52"/><circle cx="305.4" cy="323.3" r="0.70" fill-opacity="0.80" stroke="none"/><circle cx="310.8" cy="322.1" r="0.78" fill-opacity="0.47" stroke="none"/><path d="M314.9 323.8 L315.5 325.3" stroke-opacity="0.89" stroke-width="1.27"/><circle cx="317.6" cy="324.0" r="0.58" fill-opacity="0.60" stroke="none"/><circle cx="322.2" cy="324.2" r="0.57" fill-opacity="0.68" stroke="none"/><circle cx="332.3" cy="322.6" r="0.81" fill-opacity="0.49" stroke="none"/><path d="M332.7 323.6 L333.5 324.5" stroke-opacity="0.72" stroke-width="1.36"/><circle cx="337.0" cy="321.6" r="0.62" fill-opacity="0.89" stroke="none"/><circle cx="342.8" cy="322.0" r="0.72" fill-opacity="0.69" stroke="none"/><circle cx="345.2" cy="323.8" r="0.90" fill-opacity="0.84" stroke="none"/><circle cx="347.9" cy="321.8" r="0.68" fill-opacity="0.62" stroke="none"/><path d="M350.4 323.1 L351.4 323.7" stroke-opacity="0.51" stroke-width="1.46"/><circle cx="355.9" cy="324.0" r="0.90" fill-opacity="0.53" stroke="none"/><path d="M356.9 323.2 L358.0 324.7" stroke-opacity="0.85" stroke-width="1.20"/><circle cx="361.6" cy="322.6" r="0.69" fill-opacity="0.57" stroke="none"/><circle cx="365.5" cy="322.3" r="0.99" fill-opacity="0.73" stroke="none"/><path d="M367.3 323.5 L367.3 325.0" stroke-opacity="0.79" stroke-width="0.88"/><circle cx="372.0" cy="321.5" r="0.97" fill-opacity="0.64" stroke="none"/><circle cx="376.0" cy="324.5" r="0.85" fill-opacity="0.46" stroke="none"/><circle cx="378.8" cy="322.4" r="0.68" fill-opacity="0.53" stroke="none"/><circle cx="384.1" cy="322.6" r="0.71" fill-opacity="0.50" stroke="none"/><circle cx="384.7" cy="324.3" r="0.85" fill-opacity="0.73" stroke="none"/><path d="M389.3 322.4 L388.5 323.7" stroke-opacity="0.55" stroke-width="1.37"/><path d="M246.1 324.6 L245.0 325.0" stroke-opacity="0.53" stroke-width="1.45"/><circle cx="247.5" cy="325.8" r="0.64" fill-opacity="0.66" stroke="none"/><path d="M250.5 327.4 L252.3 328.3" stroke-opacity="0.71" stroke-width="0.85"/><path d="M257.3 324.4 L255.8 324.9" stroke-opacity="0.62" stroke-width="1.08"/><circle cx="261.7" cy="325.0" r="1.31" fill-opacity="0.50" stroke="none"/><circle cx="268.3" cy="326.7" r="0.97" fill-opacity="0.49" stroke="none"/><circle cx="270.5" cy="325.7" r="0.85" fill-opacity="0.82" stroke="none"/><circle cx="277.1" cy="325.2" r="0.61" fill-opacity="0.50" stroke="none"/><path d="M279.5 324.4 L280.9 325.2" stroke-opacity="0.65" stroke-width="0.89"/><circle cx="283.5" cy="326.0" r="0.68" fill-opacity="0.76" stroke="none"/><circle cx="284.6" cy="325.4" r="0.55" fill-opacity="0.85" stroke="none"/><path d="M287.5 325.8 L288.5 326.0" stroke-opacity="0.65" stroke-width="1.09"/><circle cx="291.8" cy="326.0" r="0.62" fill-opacity="0.71" stroke="none"/><path d="M297.0 325.9 L297.0 327.0" stroke-opacity="0.71" stroke-width="1.47"/><circle cx="301.1" cy="326.0" r="0.57" fill-opacity="0.65" stroke="none"/><path d="M303.3 327.3 L302.8 328.7" stroke-opacity="0.82" stroke-width="1.56"/><circle cx="305.6" cy="328.0" r="0.76" fill-opacity="0.82" stroke="none"/><path d="M312.1 327.2 L310.2 327.8" stroke-opacity="0.61" stroke-width="1.51"/><circle cx="313.6" cy="325.1" r="0.60" fill-opacity="0.90" stroke="none"/><path d="M317.9 325.5 L318.9 326.8" stroke-opacity="0.46" stroke-width="1.51"/><circle cx="319.4" cy="324.8" r="0.55" fill-opacity="0.54" stroke="none"/><circle cx="323.1" cy="325.2" r="0.67" fill-opacity="0.55" stroke="none"/><circle cx="329.0" cy="326.1" r="0.58" fill-opacity="0.77" stroke="none"/><circle cx="332.4" cy="325.6" r="0.76" fill-opacity="0.88" stroke="none"/><circle cx="335.1" cy="325.7" r="0.66" fill-opacity="0.72" stroke="none"/><circle cx="338.9" cy="325.4" r="0.90" fill-opacity="0.84" stroke="none"/><circle cx="340.7" cy="327.1" r="1.04" fill-opacity="0.77" stroke="none"/><circle cx="344.6" cy="327.3" r="1.04" fill-opacity="0.85" stroke="none"/><path d="M348.0 324.7 L347.1 325.2" stroke-opacity="0.62" stroke-width="1.15"/><path d="M349.6 326.1 L350.9 326.2" stroke-opacity="0.48" stroke-width="0.87"/><circle cx="355.1" cy="327.7" r="0.98" fill-opacity="0.63" stroke="none"/><circle cx="358.0" cy="325.4" r="0.80" fill-opacity="0.89" stroke="none"/><path d="M361.6 326.9 L360.6 327.3" stroke-opacity="0.86" stroke-width="1.55"/><path d="M364.7 324.3 L364.5 326.5" stroke-opacity="0.67" stroke-width="0.98"/><circle cx="367.4" cy="325.1" r="1.03" fill-opacity="0.82" stroke="none"/><circle cx="374.0" cy="325.2" r="0.96" fill-opacity="0.60" stroke="none"/><path d="M379.1 326.2 L379.7 328.3" stroke-opacity="0.60" stroke-width="1.25"/><circle cx="386.7" cy="324.7" r="1.04" fill-opacity="0.68" stroke="none"/><circle cx="389.6" cy="326.9" r="0.76" fill-opacity="0.88" stroke="none"/><path d="M394.4 325.1 L394.5 326.1" stroke-opacity="0.50" stroke-width="0.83"/><circle cx="396.6" cy="326.8" r="1.10" fill-opacity="0.64" stroke="none"/><circle cx="238.6" cy="329.0" r="0.56" fill-opacity="0.50" stroke="none"/><path d="M240.4 331.1 L239.1 331.8" stroke-opacity="0.84" stroke-width="0.93"/><path d="M246.3 328.7 L245.0 329.0" stroke-opacity="0.48" stroke-width="1.54"/><circle cx="247.5" cy="328.1" r="0.76" fill-opacity="0.83" stroke="none"/><path d="M251.0 330.8 L252.6 331.8" stroke-opacity="0.69" stroke-width="1.53"/><circle cx="257.1" cy="330.7" r="0.63" fill-opacity="0.62" stroke="none"/><circle cx="261.5" cy="330.0" r="1.31" fill-opacity="0.58" stroke="none"/><circle cx="264.6" cy="329.6" r="0.57" fill-opacity="0.86" stroke="none"/><circle cx="268.5" cy="330.6" r="0.85" fill-opacity="0.47" stroke="none"/><circle cx="272.0" cy="331.1" r="1.03" fill-opacity="0.63" stroke="none"/><circle cx="276.5" cy="330.7" r="0.88" fill-opacity="0.61" stroke="none"/><circle cx="277.6" cy="328.5" r="0.60" fill-opacity="0.64" stroke="none"/><circle cx="281.0" cy="328.5" r="0.86" fill-opacity="0.58" stroke="none"/><circle cx="287.2" cy="329.7" r="0.95" fill-opacity="0.67" stroke="none"/><circle cx="287.9" cy="329.2" r="0.70" fill-opacity="0.47" stroke="none"/><circle cx="294.5" cy="331.0" r="0.65" fill-opacity="0.48" stroke="none"/><circle cx="299.6" cy="329.3" r="0.95" fill-opacity="0.79" stroke="none"/><circle cx="303.9" cy="331.0" r="0.57" fill-opacity="0.82" stroke="none"/><circle cx="306.8" cy="329.1" r="0.79" fill-opacity="0.83" stroke="none"/><circle cx="310.4" cy="328.6" r="0.90" fill-opacity="0.64" stroke="none"/><circle cx="314.6" cy="329.7" r="0.71" fill-opacity="0.45" stroke="none"/><path d="M316.1 331.2 L314.6 331.5" stroke-opacity="0.59" stroke-width="1.56"/><circle cx="321.9" cy="331.4" r="0.88" fill-opacity="0.49" stroke="none"/><circle cx="324.8" cy="330.5" r="0.96" fill-opacity="0.65" stroke="none"/><circle cx="327.0" cy="330.6" r="0.69" fill-opacity="0.90" stroke="none"/><circle cx="333.2" cy="328.9" r="0.90" fill-opacity="0.58" stroke="none"/><circle cx="338.3" cy="330.9" r="1.02" fill-opacity="0.73" stroke="none"/><circle cx="344.6" cy="328.2" r="1.00" fill-opacity="0.68" stroke="none"/><path d="M346.7 328.9 L347.1 329.9" stroke-opacity="0.51" stroke-width="1.31"/><circle cx="352.7" cy="331.2" r="0.66" fill-opacity="0.86" stroke="none"/><circle cx="353.8" cy="328.3" r="0.56" fill-opacity="0.69" stroke="none"/><path d="M359.2 328.8 L358.5 330.8" stroke-opacity="0.66" stroke-width="1.50"/><circle cx="362.4" cy="330.0" r="0.68" fill-opacity="0.50" stroke="none"/><path d="M364.6 329.7 L364.5 331.2" stroke-opacity="0.62" stroke-width="0.84"/><circle cx="368.4" cy="328.6" r="0.69" fill-opacity="0.63" stroke="none"/><path d="M371.7 329.0 L370.2 330.0" stroke-opacity="0.46" stroke-width="1.24"/><circle cx="377.0" cy="328.5" r="0.68" fill-opacity="0.79" stroke="none"/><circle cx="378.5" cy="328.2" r="0.75" fill-opacity="0.86" stroke="none"/><path d="M382.2 329.2 L382.8 330.4" stroke-opacity="0.51" stroke-width="0.96"/><circle cx="384.9" cy="330.1" r="0.86" fill-opacity="0.53" stroke="none"/><path d="M391.0 328.4 L390.2 329.6" stroke-opacity="0.70" stroke-width="0.92"/><circle cx="393.0" cy="331.2" r="0.98" fill-opacity="0.53" stroke="none"/><path d="M394.5 328.5 L394.8 329.7" stroke-opacity="0.79" stroke-width="0.94"/></g>
<g stroke="#111" fill="none" stroke-width="2">
<rect x="220.4" y="16.8" width="192.20" height="391.90"/>
<rect x="236.9" y="32.8" width="159.00" height="359.50"/>
</g>
<g stroke="#111" fill="none" stroke-width="1.8">
<path d="M236.90 174.40 C239.32 173.77 246.47 171.47 251.40 170.60 C256.33 169.73 261.72 169.13 266.50 169.20 C271.28 169.27 275.85 170.28 280.10 171.00 C284.35 171.72 287.72 173.10 292.00 173.50 C296.28 173.90 301.18 173.47 305.80 173.40 C310.42 173.33 315.23 172.78 319.70 173.10 C324.17 173.42 329.22 174.85 332.60 175.30 C335.98 175.75 337.12 176.03 340.00 175.80 C342.88 175.57 346.10 174.35 349.90 173.90 C353.70 173.45 358.35 172.85 362.80 173.10 C367.25 173.35 372.48 175.08 376.60 175.40 C380.72 175.72 384.28 175.37 387.50 175.00 C390.72 174.63 394.50 173.50 395.90 173.20"/>
<path d="M236.90 238.00 C239.08 237.63 244.38 236.48 250.00 235.80 C255.62 235.12 263.27 233.72 270.60 233.90 C277.93 234.08 287.47 236.25 294.00 236.90 C300.53 237.55 305.02 237.80 309.80 237.80 C314.58 237.80 317.75 237.42 322.70 236.90 C327.65 236.38 334.95 235.12 339.50 234.70 C344.05 234.28 346.93 234.20 350.00 234.40 C353.07 234.60 354.93 235.48 357.90 235.90 C360.87 236.32 364.17 236.90 367.80 236.90 C371.43 236.90 375.02 236.83 379.70 235.90 C384.38 234.97 393.20 232.07 395.90 231.30"/>
<path d="M236.90 295.60 C238.68 296.37 244.37 298.38 247.60 300.20 C250.83 302.02 253.38 304.43 256.30 306.50 C259.22 308.57 262.33 310.65 265.10 312.60 C267.87 314.55 270.42 316.63 272.90 318.20 C275.38 319.77 277.18 320.90 280.00 322.00 C282.82 323.10 286.52 324.18 289.80 324.80 C293.08 325.42 296.40 325.70 299.70 325.70 C303.00 325.70 306.30 325.37 309.60 324.80 C312.90 324.23 316.20 323.22 319.50 322.30 C322.80 321.38 325.98 320.68 329.40 319.30 C332.82 317.92 336.57 315.52 340.00 314.00 C343.43 312.48 345.28 310.95 350.00 310.20 C354.72 309.45 362.92 309.85 368.30 309.50 C373.68 309.15 377.70 308.72 382.30 308.10 C386.90 307.48 393.63 306.18 395.90 305.80"/>
</g>
<g stroke="#111" fill="none" stroke-width="1.5">
<path d="M205.2 72 C225 72.5 243 80.5 263.8 96"/>
<path d="M210.2 368.2 C232 368 250 360 268.5 344.4"/>
<path d="M422.6 203.2 Q398 203 379.1 217.3"/>
<path d="M423.5 256.8 Q399 256 379.2 270.6"/>
</g>
<g opacity="0.995"><text transform="translate(96.78 76.00) scale(0.709 1)" font-size="14.68" font-family='"Liberation Sans"' font-weight="normal" fill="#111" stroke="#111" stroke-width="0.82" stroke-linejoin="round">A</text>
<text transform="translate(104.76 76.00) scale(0.879 1)" font-size="14.68" font-family='"Liberation Sans"' font-weight="normal" fill="#111" stroke="#111" stroke-width="0.75" stroke-linejoin="round">g</text>
<text transform="translate(122.50 76.00) scale(0.666 1)" font-size="14.68" font-family='"Liberation Sans"' font-weight="normal" fill="#111" stroke="#111" stroke-width="0.84" stroke-linejoin="round">E</text>
<text transform="translate(130.47 76.00) scale(0.772 1)" font-size="14.68" font-family='"Liberation Sans"' font-weight="normal" fill="#111" stroke="#111" stroke-width="0.79" stroke-linejoin="round">L</text>
<text transform="translate(138.50 76.00) scale(0.666 1)" font-size="14.68" font-family='"Liberation Sans"' font-weight="normal" fill="#111" stroke="#111" stroke-width="0.84" stroke-linejoin="round">E</text>
<text transform="translate(146.30 76.00) scale(0.807 1)" font-size="14.68" font-family='"Liberation Sans"' font-weight="normal" fill="#111" stroke="#111" stroke-width="0.77" stroke-linejoin="round">C</text>
<text transform="translate(155.91 76.00) scale(0.867 1)" font-size="14.68" font-family='"Liberation Sans"' font-weight="normal" fill="#111" stroke="#111" stroke-width="0.75" stroke-linejoin="round">T</text>
<text transform="translate(164.77 76.00) scale(0.688 1)" font-size="14.68" font-family='"Liberation Sans"' font-weight="normal" fill="#111" stroke="#111" stroke-width="0.83" stroke-linejoin="round">R</text>
<text transform="translate(172.87 76.00) scale(0.758 1)" font-size="14.68" font-family='"Liberation Sans"' font-weight="normal" fill="#111" stroke="#111" stroke-width="0.80" stroke-linejoin="round">O</text>
<text transform="translate(183.06 76.00) scale(0.702 1)" font-size="14.68" font-family='"Liberation Sans"' font-weight="normal" fill="#111" stroke="#111" stroke-width="0.82" stroke-linejoin="round">D</text>
<text transform="translate(192.04 76.00) scale(0.628 1)" font-size="14.68" font-family='"Liberation Sans"' font-weight="normal" fill="#111" stroke="#111" stroke-width="0.86" stroke-linejoin="round">E</text>
<text transform="translate(101.98 373.10) scale(0.669 1)" font-size="15.55" font-family='"Liberation Sans"' font-weight="normal" fill="#111" stroke="#111" stroke-width="0.84" stroke-linejoin="round">A</text>
<text transform="translate(109.96 373.10) scale(0.829 1)" font-size="15.55" font-family='"Liberation Sans"' font-weight="normal" fill="#111" stroke="#111" stroke-width="0.77" stroke-linejoin="round">g</text>
<text transform="translate(127.70 373.10) scale(0.629 1)" font-size="15.55" font-family='"Liberation Sans"' font-weight="normal" fill="#111" stroke="#111" stroke-width="0.86" stroke-linejoin="round">E</text>
<text transform="translate(135.67 373.10) scale(0.729 1)" font-size="15.55" font-family='"Liberation Sans"' font-weight="normal" fill="#111" stroke="#111" stroke-width="0.81" stroke-linejoin="round">L</text>
<text transform="translate(143.70 373.10) scale(0.629 1)" font-size="15.55" font-family='"Liberation Sans"' font-weight="normal" fill="#111" stroke="#111" stroke-width="0.86" stroke-linejoin="round">E</text>
<text transform="translate(151.50 373.10) scale(0.761 1)" font-size="15.55" font-family='"Liberation Sans"' font-weight="normal" fill="#111" stroke="#111" stroke-width="0.79" stroke-linejoin="round">C</text>
<text transform="translate(161.11 373.10) scale(0.819 1)" font-size="15.55" font-family='"Liberation Sans"' font-weight="normal" fill="#111" stroke="#111" stroke-width="0.77" stroke-linejoin="round">T</text>
<text transform="translate(169.97 373.10) scale(0.650 1)" font-size="15.55" font-family='"Liberation Sans"' font-weight="normal" fill="#111" stroke="#111" stroke-width="0.85" stroke-linejoin="round">R</text>
<text transform="translate(178.07 373.10) scale(0.716 1)" font-size="15.55" font-family='"Liberation Sans"' font-weight="normal" fill="#111" stroke="#111" stroke-width="0.82" stroke-linejoin="round">O</text>
<text transform="translate(188.26 373.10) scale(0.662 1)" font-size="15.55" font-family='"Liberation Sans"' font-weight="normal" fill="#111" stroke="#111" stroke-width="0.84" stroke-linejoin="round">D</text>
<text transform="translate(197.24 373.10) scale(0.593 1)" font-size="15.55" font-family='"Liberation Sans"' font-weight="normal" fill="#111" stroke="#111" stroke-width="0.88" stroke-linejoin="round">E</text>
<text transform="translate(429.53 207.20) scale(0.757 1)" font-size="14.97" font-family='"Liberation Sans"' font-weight="normal" fill="#111" stroke="#111" stroke-width="0.80" stroke-linejoin="round">G</text>
<text transform="translate(439.19 207.20) scale(0.714 1)" font-size="14.97" font-family='"Liberation Sans"' font-weight="normal" fill="#111" stroke="#111" stroke-width="0.82" stroke-linejoin="round">O</text>
<text transform="translate(431.66 260.50) scale(0.755 1)" font-size="14.83" font-family='"Liberation Sans"' font-weight="normal" fill="#111" stroke="#111" stroke-width="0.80" stroke-linejoin="round">r</text>
<text transform="translate(437.31 260.50) scale(0.796 1)" font-size="14.83" font-family='"Liberation Sans"' font-weight="normal" fill="#111" stroke="#111" stroke-width="0.78" stroke-linejoin="round">G</text>
<text transform="translate(447.21 260.50) scale(0.702 1)" font-size="14.83" font-family='"Liberation Sans"' font-weight="normal" fill="#111" stroke="#111" stroke-width="0.82" stroke-linejoin="round">O</text>
<text transform="translate(289.24 491.95) scale(0.719 1)" font-size="27.33" font-family='"Liberation Sans"' font-weight="normal" fill="#111" stroke="#111" stroke-width="1.63" stroke-linejoin="round">F</text>
<text transform="translate(303.88 491.95) scale(0.942 1)" font-size="27.33" font-family='"Liberation Sans"' font-weight="normal" fill="#111" stroke="#111" stroke-width="1.44" stroke-linejoin="round">I</text>
<text transform="translate(312.46 491.95) scale(0.796 1)" font-size="27.33" font-family='"Liberation Sans"' font-weight="normal" fill="#111" stroke="#111" stroke-width="1.56" stroke-linejoin="round">G</text><path d="M343.9 477.2 L347.9 474 L347.8 491 M361.2 477.2 L365.1 474 L365 491" stroke="#111" stroke-width="3.6" stroke-linecap="round" stroke-linejoin="round" fill="none"/><circle cx="333.5" cy="489.9" r="2.75" fill="#111"/>
<text x="422.4" y="504.5" font-size="19.2" font-family='"Liberation Sans"' fill="#cad8c2" stroke="#cad8c2" stroke-width="0.25">www.cntronics.com</text></g>
</svg>
</body></html>
